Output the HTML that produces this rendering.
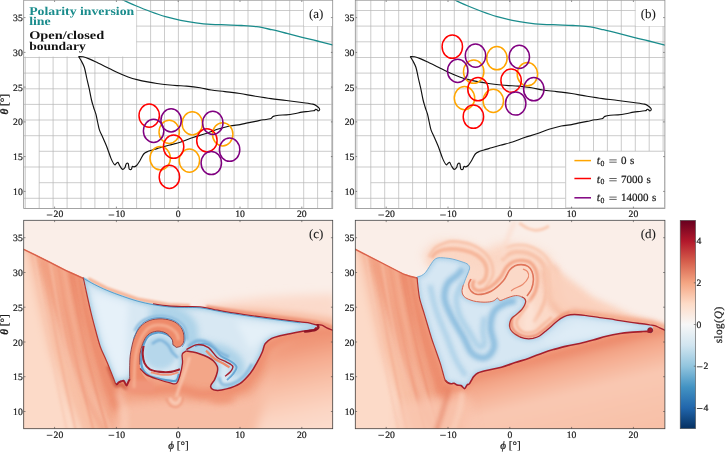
<!DOCTYPE html>
<html><head><meta charset="utf-8"><title>figure</title>
<style>html,body{margin:0;padding:0;background:#fff;}svg{display:block;}text{font-family:"Liberation Serif", serif;fill:#1a1a1a;text-rendering:geometricPrecision;stroke:#1a1a1a;stroke-width:0.22px;}svg{opacity:0.999;}</style></head><body>
<svg width="725" height="452" viewBox="0 0 725 452">
<rect width="725" height="452" fill="#fff"/>
<defs>
<clipPath id="ca"><rect x="23.7" y="0.2" width="309" height="208.2"/></clipPath>
<clipPath id="cb"><rect x="355.3" y="0.2" width="309.6" height="208.2"/></clipPath>
<clipPath id="cc"><rect x="23.7" y="220.3" width="309" height="208.4"/></clipPath>
<clipPath id="cd"><rect x="355.3" y="220.3" width="309.6" height="208.4"/></clipPath>
<filter id="b05" filterUnits="userSpaceOnUse" x="-20" y="-20" width="765" height="492"><feGaussianBlur stdDeviation="0.5"/></filter>
<filter id="b1" filterUnits="userSpaceOnUse" x="-20" y="-20" width="765" height="492"><feGaussianBlur stdDeviation="1"/></filter>
<filter id="b2" filterUnits="userSpaceOnUse" x="-20" y="-20" width="765" height="492"><feGaussianBlur stdDeviation="2"/></filter>
<filter id="b3" filterUnits="userSpaceOnUse" x="-20" y="-20" width="765" height="492"><feGaussianBlur stdDeviation="3"/></filter>
<filter id="b5" filterUnits="userSpaceOnUse" x="-20" y="-20" width="765" height="492"><feGaussianBlur stdDeviation="5"/></filter>
<filter id="b8" filterUnits="userSpaceOnUse" x="-20" y="-20" width="765" height="492"><feGaussianBlur stdDeviation="8"/></filter>
<linearGradient id="cbar" x1="0" y1="0" x2="0" y2="1">
<stop offset="0" stop-color="#67001f"/>
<stop offset="0.1" stop-color="#b2182b"/>
<stop offset="0.2" stop-color="#d6604d"/>
<stop offset="0.3" stop-color="#f4a582"/>
<stop offset="0.4" stop-color="#fddbc7"/>
<stop offset="0.5" stop-color="#f7f7f7"/>
<stop offset="0.6" stop-color="#d1e5f0"/>
<stop offset="0.7" stop-color="#92c5de"/>
<stop offset="0.8" stop-color="#4393c3"/>
<stop offset="0.9" stop-color="#2166ac"/>
<stop offset="1" stop-color="#053061"/>
</linearGradient>
</defs>
<g clip-path="url(#ca)">
<path d="M25.3 0.2 V208.4M39.2 0.2 V208.4M53.1 0.2 V208.4M67.1 0.2 V208.4M81 0.2 V208.4M94.9 0.2 V208.4M108.8 0.2 V208.4M122.7 0.2 V208.4M136.6 0.2 V208.4M150.6 0.2 V208.4M164.5 0.2 V208.4M178.4 0.2 V208.4M192.3 0.2 V208.4M206.2 0.2 V208.4M220.2 0.2 V208.4M234.1 0.2 V208.4M248 0.2 V208.4M261.9 0.2 V208.4M275.8 0.2 V208.4M289.7 0.2 V208.4M303.7 0.2 V208.4M317.6 0.2 V208.4M331.5 0.2 V208.4M23.7 10.5 H332.7M23.7 26.1 H332.7M23.7 41.8 H332.7M23.7 57.5 H332.7M23.7 73.1 H332.7M23.7 88.8 H332.7M23.7 104.4 H332.7M23.7 120 H332.7M23.7 135.7 H332.7M39.2 151.3 H332.7M23.7 167 H332.7M39.2 182.7 H332.7M23.7 198.3 H332.7" stroke="#b6b6b6" stroke-width="0.7" fill="none"/>
<rect x="23.7" y="0" width="112.5" height="56.6" fill="#fff"/>
<rect x="304.0" y="0" width="30" height="26" fill="#fff"/>
<path d="M121 -1 C121.3 -0.8 120.6 -1.1 123 0 C125.4 1.1 130.6 3.6 135.2 5.5 C139.8 7.4 145.2 9.6 150.3 11.5 C155.4 13.4 160.4 15.2 165.5 16.7 C170.6 18.2 175.6 19.3 180.7 20.3 C185.8 21.3 190.8 22.1 195.9 22.8 C201 23.5 205.9 24 211 24.3 C216.1 24.6 221.1 24.7 226.2 24.9 C231.3 25.1 236.3 25.2 241.4 25.5 C246.5 25.8 251.6 26 256.6 26.7 C261.7 27.4 266.6 28.6 271.7 29.7 C276.8 30.8 281.8 32.1 286.9 33.4 C292 34.7 297 36 302.1 37.3 C307.2 38.6 312.2 39.7 317.3 41 C322.4 42.3 329.3 44.1 332.4 44.9 C335.5 45.7 335.4 45.7 336 45.9" stroke="#1a8c8c" stroke-width="1.3" fill="none"/>
<path d="M78.5 56.5 C79.2 56.5 81.2 56.4 83 56.8 C84.8 57.2 86.7 57.9 89.2 58.9 C91.7 59.9 94.8 61.5 98 63 C101.2 64.5 105.4 66.6 108.7 68.2 C112 69.8 114.8 71.3 118 72.8 C121.2 74.3 124.8 75.8 128.1 77 C131.4 78.2 134.8 79.1 138 79.9 C141.2 80.7 144.4 81.3 147.6 81.9 C150.8 82.5 153.8 83 157 83.5 C160.2 84 163.8 84.5 167.1 84.8 C170.4 85.1 173.8 85.4 177 85.6 C180.2 85.8 182.8 85.8 186.6 86.1 C190.4 86.4 195.9 87 200 87.7 C204.1 88.4 207.1 89.3 211.3 90 C215.5 90.7 220.2 91 225 91.6 C229.8 92.2 234.9 92.7 240 93.5 C245.1 94.3 250.3 95.5 255.5 96.3 C260.7 97.1 265.9 97.9 271 98.6 C276.1 99.3 281.2 99.8 286.4 100.5 C291.5 101.2 297.5 101.9 301.9 102.5 C306.3 103.1 310.4 103.5 312.8 104.1 C315.2 104.7 315.6 105.3 316.6 105.9 C317.6 106.5 318.1 107 318.6 107.6 C319.1 108.2 319.8 109 319.7 109.5 C319.6 110 318.7 110.9 318.2 110.9 C317.7 110.9 317.3 110 316.9 109.7 C316.5 109.4 316.1 109.2 315.7 109.3 C315.3 109.4 315 110.2 314.6 110.5 C314.2 110.8 314.4 110.6 313.3 110.8 C312.2 111 310 111.3 308.1 111.5 C306.2 111.7 304.2 111.7 301.9 112.1 C299.6 112.5 296.8 113.3 294.2 113.8 C291.6 114.3 289 114.7 286.4 114.9 C283.8 115.1 280.9 115 278.7 115.2 C276.5 115.5 274.7 115.8 273.3 116.4 C271.9 117 271.9 118.2 270.2 118.8 C268.5 119.4 265.6 119.4 263.2 119.8 C260.8 120.2 258.1 120.9 255.5 121.4 C252.9 121.9 250.3 122.4 247.7 122.9 C245.1 123.4 243 124.1 240 124.6 C237 125.1 233.4 125.2 229.6 126 C225.8 126.8 221.5 128 217.4 129.3 C213.3 130.6 209.3 132.4 205.2 133.8 C201.1 135.2 197.1 136.1 193 137.5 C188.9 138.9 185 140.7 180.9 142 C176.8 143.3 172.2 144.3 168.7 145.3 C165.2 146.3 162.4 147.1 160 147.8 C157.6 148.5 156.3 148.8 154.3 149.4 C152.3 150 149.9 150.5 148.1 151.3 C146.3 152.1 145 152.5 143.7 154 C142.4 155.5 141.4 158.3 140.2 160.2 C139 162.1 137.6 164.4 136.6 165.5 C135.6 166.6 134.7 166.8 134 166.9 C133.3 167.1 132.8 166 132.4 166.4 C132 166.8 131.8 169 131.3 169.4 C130.8 169.8 129.6 169.7 129.2 169 C128.8 168.3 128.8 166.4 128.6 165.5 C128.4 164.6 128.5 163.7 128.1 163.4 C127.7 163.1 126.8 163.3 126.4 163.7 C126 164 125.8 164.9 125.6 165.5 C125.4 166.1 125.6 166.7 125.1 167.3 C124.6 168 123.4 169.7 122.5 169.4 C121.6 169.2 120.5 167 119.8 165.8 C119 164.6 118.6 162.7 118 162.3 C117.4 161.9 116.9 163 116.3 163.4 C115.7 163.8 115.4 165.4 114.5 164.6 C113.6 163.8 112.3 161.5 111 158.4 C109.7 155.3 107.9 149.5 106.5 146 C105.1 142.5 104 140.2 102.8 137.5 C101.6 134.8 100.4 132.7 99.5 130.1 C98.6 127.5 98.2 124.7 97.6 122 C97 119.3 96.6 116.7 95.9 114.2 C95.2 111.7 94.2 109.4 93.5 107 C92.8 104.6 92.2 103 91.5 100 C90.8 97 90 92.5 89.2 88.7 C88.4 85 87.4 81.1 86.6 77.5 C85.8 73.9 85.2 70.1 84.3 67.3 C83.4 64.5 82.2 62.6 81.2 60.8 C80.2 59 79 57.2 78.5 56.5" stroke="#111" stroke-width="1.15" fill="none" stroke-linejoin="round"/>
<ellipse cx="192.3" cy="123.4" rx="10.2" ry="11.6" fill="none" stroke="#ffa500" stroke-width="1.5"/>
<ellipse cx="222.7" cy="134.3" rx="10.2" ry="11.6" fill="none" stroke="#ffa500" stroke-width="1.5"/>
<ellipse cx="169.2" cy="131.9" rx="10.2" ry="11.6" fill="none" stroke="#ffa500" stroke-width="1.5"/>
<ellipse cx="160.2" cy="158.2" rx="10.2" ry="11.6" fill="none" stroke="#ffa500" stroke-width="1.5"/>
<ellipse cx="189.4" cy="160.6" rx="10.2" ry="11.6" fill="none" stroke="#ffa500" stroke-width="1.5"/>
<ellipse cx="149.2" cy="115.6" rx="10.2" ry="11.6" fill="none" stroke="#ff0000" stroke-width="1.5"/>
<ellipse cx="206.9" cy="140.4" rx="10.2" ry="11.6" fill="none" stroke="#ff0000" stroke-width="1.5"/>
<ellipse cx="173.6" cy="146.7" rx="10.2" ry="11.6" fill="none" stroke="#ff0000" stroke-width="1.5"/>
<ellipse cx="169.4" cy="176.9" rx="10.2" ry="11.6" fill="none" stroke="#ff0000" stroke-width="1.5"/>
<ellipse cx="171.1" cy="120.4" rx="10.2" ry="11.6" fill="none" stroke="#800080" stroke-width="1.5"/>
<ellipse cx="212.8" cy="122.9" rx="10.2" ry="11.6" fill="none" stroke="#800080" stroke-width="1.5"/>
<ellipse cx="153.6" cy="130.9" rx="10.2" ry="11.6" fill="none" stroke="#800080" stroke-width="1.5"/>
<ellipse cx="229.6" cy="149.7" rx="10.2" ry="11.6" fill="none" stroke="#800080" stroke-width="1.5"/>
<ellipse cx="211.3" cy="163" rx="10.2" ry="11.6" fill="none" stroke="#800080" stroke-width="1.5"/>
</g>
<g clip-path="url(#cb)">
<path d="M356.9 0.2 V208.4M370.8 0.2 V208.4M384.7 0.2 V208.4M398.7 0.2 V208.4M412.6 0.2 V208.4M426.5 0.2 V208.4M440.4 0.2 V208.4M454.3 0.2 V208.4M468.2 0.2 V208.4M482.2 0.2 V208.4M496.1 0.2 V208.4M510 0.2 V208.4M523.9 0.2 V208.4M537.8 0.2 V208.4M551.8 0.2 V208.4M565.7 0.2 V208.4M579.6 0.2 V208.4M593.5 0.2 V208.4M607.4 0.2 V208.4M621.3 0.2 V208.4M635.3 0.2 V208.4M649.2 0.2 V208.4M663.1 0.2 V208.4M355.3 10.5 H664.9M355.3 26.1 H664.9M355.3 41.8 H664.9M355.3 57.5 H664.9M355.3 73.1 H664.9M355.3 88.8 H664.9M355.3 104.4 H664.9M355.3 120 H664.9M355.3 135.7 H664.9M370.8 151.3 H664.9M355.3 167 H664.9M370.8 182.7 H664.9M355.3 198.3 H664.9" stroke="#b6b6b6" stroke-width="0.7" fill="none"/>
<rect x="635.7" y="0" width="30" height="26" fill="#fff"/>
<path d="M452.6 -1 C452.9 -0.8 452.2 -1.1 454.6 0 C457 1.1 462.2 3.6 466.8 5.5 C471.4 7.4 476.9 9.6 481.9 11.5 C487 13.4 492 15.2 497.1 16.7 C502.2 18.2 507.2 19.3 512.3 20.3 C517.4 21.3 522.5 22.1 527.5 22.8 C532.5 23.5 537.6 24 542.6 24.3 C547.6 24.6 552.7 24.7 557.8 24.9 C562.9 25.1 567.9 25.2 573 25.5 C578.1 25.8 583.2 26 588.2 26.7 C593.2 27.4 598.2 28.6 603.3 29.7 C608.3 30.8 613.4 32.1 618.5 33.4 C623.6 34.7 628.6 36 633.7 37.3 C638.8 38.6 643.9 39.7 648.9 41 C654 42.3 660.9 44.1 664 44.9 C667.1 45.7 667 45.7 667.6 45.9" stroke="#1a8c8c" stroke-width="1.3" fill="none"/>
<path d="M410.1 56.5 C410.9 56.5 412.8 56.4 414.6 56.8 C416.4 57.2 418.3 57.9 420.8 58.9 C423.3 59.9 426.4 61.5 429.6 63 C432.9 64.5 437 66.6 440.3 68.2 C443.6 69.8 446.4 71.3 449.6 72.8 C452.8 74.3 456.4 75.8 459.7 77 C463 78.2 466.4 79.1 469.6 79.9 C472.9 80.7 476 81.3 479.2 81.9 C482.4 82.5 485.4 83 488.6 83.5 C491.9 84 495.4 84.5 498.7 84.8 C502 85.1 505.4 85.4 508.6 85.6 C511.9 85.8 514.4 85.8 518.2 86.1 C522 86.4 527.5 87 531.6 87.7 C535.7 88.4 538.7 89.3 542.9 90 C547.1 90.7 551.8 91 556.6 91.6 C561.4 92.2 566.5 92.7 571.6 93.5 C576.7 94.3 581.9 95.5 587.1 96.3 C592.3 97.1 597.5 97.9 602.6 98.6 C607.8 99.3 612.9 99.8 618 100.5 C623.1 101.2 629.1 101.9 633.5 102.5 C637.9 103.1 642 103.5 644.4 104.1 C646.9 104.7 647.2 105.3 648.2 105.9 C649.2 106.5 649.7 107 650.2 107.6 C650.7 108.2 651.4 109 651.3 109.5 C651.2 110 650.3 110.9 649.8 110.9 C649.3 110.9 648.9 110 648.5 109.7 C648.1 109.4 647.7 109.2 647.3 109.3 C646.9 109.4 646.6 110.2 646.2 110.5 C645.8 110.8 646 110.6 644.9 110.8 C643.8 111 641.6 111.3 639.7 111.5 C637.8 111.7 635.8 111.7 633.5 112.1 C631.2 112.5 628.4 113.3 625.8 113.8 C623.2 114.3 620.6 114.7 618 114.9 C615.4 115.1 612.5 115 610.3 115.2 C608.1 115.5 606.3 115.8 604.9 116.4 C603.5 117 603.5 118.2 601.8 118.8 C600.1 119.4 597.2 119.4 594.8 119.8 C592.3 120.2 589.7 120.9 587.1 121.4 C584.5 121.9 581.9 122.4 579.3 122.9 C576.7 123.4 574.6 124.1 571.6 124.6 C568.6 125.1 565 125.2 561.2 126 C557.4 126.8 553.1 128 549 129.3 C544.9 130.6 540.9 132.4 536.8 133.8 C532.7 135.2 528.6 136.1 524.6 137.5 C520.6 138.9 516.5 140.7 512.5 142 C508.4 143.3 503.8 144.3 500.3 145.3 C496.8 146.3 494 147.1 491.6 147.8 C489.2 148.5 487.9 148.8 485.9 149.4 C483.9 150 481.5 150.5 479.7 151.3 C477.9 152.1 476.6 152.5 475.3 154 C474 155.5 473 158.3 471.8 160.2 C470.6 162.1 469.2 164.4 468.2 165.5 C467.2 166.6 466.3 166.8 465.6 166.9 C464.9 167.1 464.4 166 464 166.4 C463.6 166.8 463.4 169 462.9 169.4 C462.4 169.8 461.2 169.7 460.8 169 C460.4 168.3 460.4 166.4 460.2 165.5 C460 164.6 460.1 163.7 459.7 163.4 C459.3 163.1 458.4 163.3 458 163.7 C457.6 164 457.4 164.9 457.2 165.5 C457 166.1 457.2 166.7 456.7 167.3 C456.2 168 455 169.7 454.1 169.4 C453.2 169.2 452.2 167 451.4 165.8 C450.7 164.6 450.2 162.7 449.6 162.3 C449 161.9 448.5 163 447.9 163.4 C447.3 163.8 447 165.4 446.1 164.6 C445.2 163.8 443.9 161.5 442.6 158.4 C441.3 155.3 439.5 149.5 438.1 146 C436.7 142.5 435.6 140.2 434.4 137.5 C433.2 134.8 432 132.7 431.1 130.1 C430.2 127.5 429.8 124.7 429.2 122 C428.6 119.3 428.2 116.7 427.5 114.2 C426.8 111.7 425.8 109.4 425.1 107 C424.4 104.6 423.8 103 423.1 100 C422.4 97 421.6 92.5 420.8 88.7 C420 85 419 81.1 418.2 77.5 C417.4 73.9 416.8 70.1 415.9 67.3 C415 64.5 413.8 62.6 412.8 60.8 C411.8 59 410.6 57.2 410.1 56.5" stroke="#111" stroke-width="1.15" fill="none" stroke-linejoin="round"/>
<ellipse cx="496.9" cy="58.2" rx="10.2" ry="11.6" fill="none" stroke="#ffa500" stroke-width="1.5"/>
<ellipse cx="527.4" cy="74.2" rx="10.2" ry="11.6" fill="none" stroke="#ffa500" stroke-width="1.5"/>
<ellipse cx="473.7" cy="71.7" rx="10.2" ry="11.6" fill="none" stroke="#ffa500" stroke-width="1.5"/>
<ellipse cx="464.5" cy="98.1" rx="10.2" ry="11.6" fill="none" stroke="#ffa500" stroke-width="1.5"/>
<ellipse cx="493.3" cy="100.9" rx="10.2" ry="11.6" fill="none" stroke="#ffa500" stroke-width="1.5"/>
<ellipse cx="452.3" cy="46.7" rx="10.2" ry="11.6" fill="none" stroke="#ff0000" stroke-width="1.5"/>
<ellipse cx="511.1" cy="80.6" rx="10.2" ry="11.6" fill="none" stroke="#ff0000" stroke-width="1.5"/>
<ellipse cx="478" cy="89.2" rx="10.2" ry="11.6" fill="none" stroke="#ff0000" stroke-width="1.5"/>
<ellipse cx="473.4" cy="116.7" rx="10.2" ry="11.6" fill="none" stroke="#ff0000" stroke-width="1.5"/>
<ellipse cx="475.5" cy="55.6" rx="10.2" ry="11.6" fill="none" stroke="#800080" stroke-width="1.5"/>
<ellipse cx="519.3" cy="56.9" rx="10.2" ry="11.6" fill="none" stroke="#800080" stroke-width="1.5"/>
<ellipse cx="457.7" cy="70.9" rx="10.2" ry="11.6" fill="none" stroke="#800080" stroke-width="1.5"/>
<ellipse cx="533.8" cy="89.2" rx="10.2" ry="11.6" fill="none" stroke="#800080" stroke-width="1.5"/>
<ellipse cx="515.7" cy="103.5" rx="10.2" ry="11.6" fill="none" stroke="#800080" stroke-width="1.5"/>
</g>
<text x="29.2" y="14.6" font-size="11.9" font-weight="bold" style="fill:#1a8c8c;stroke:none" textLength="105" lengthAdjust="spacingAndGlyphs">Polarity inversion</text>
<text x="29.2" y="24.6" font-size="11.9" font-weight="bold" style="fill:#1a8c8c;stroke:none" textLength="21.5" lengthAdjust="spacingAndGlyphs">line</text>
<text x="29.2" y="39.3" font-size="11.9" font-weight="bold" style="fill:#111;stroke:none" textLength="75" lengthAdjust="spacingAndGlyphs">Open/closed</text>
<text x="29.2" y="49.6" font-size="11.9" font-weight="bold" style="fill:#111;stroke:none" textLength="56.5" lengthAdjust="spacingAndGlyphs">boundary</text>
<rect x="565.8" y="151.3" width="98.6" height="56.4" fill="#fff" stroke="#ccc" stroke-width="0.8"/>
<path d="M574.4 160.6 H591" stroke="#ffa500" stroke-width="1.5"/>
<text y="163.9" font-size="11"><tspan x="596.7" font-style="italic" font-size="11.6">t</tspan><tspan x="600.6" font-size="7.8" dy="1.8">0</tspan><tspan x="620.9" dy="-1.8">0</tspan><tspan x="630.1">s</tspan></text>
<path d="M609.3 162.2 h7.4 M609.3 159.9 h7.4" stroke="#222" stroke-width="0.7"/>
<path d="M574.4 178.5 H591" stroke="#ff0000" stroke-width="1.5"/>
<text y="182.5" font-size="11"><tspan x="596.7" font-style="italic" font-size="11.6">t</tspan><tspan x="600.6" font-size="7.8" dy="1.8">0</tspan><tspan x="620.9" dy="-1.8">7000</tspan><tspan x="646.6">s</tspan></text>
<path d="M609.3 180.8 h7.4 M609.3 178.5 h7.4" stroke="#222" stroke-width="0.7"/>
<path d="M574.4 197.8 H591" stroke="#800080" stroke-width="1.5"/>
<text y="201.1" font-size="11"><tspan x="596.7" font-style="italic" font-size="11.6">t</tspan><tspan x="600.6" font-size="7.8" dy="1.8">0</tspan><tspan x="620.9" dy="-1.8">14000</tspan><tspan x="652.1">s</tspan></text>
<path d="M609.3 199.4 h7.4 M609.3 197.1 h7.4" stroke="#222" stroke-width="0.7"/>
<clipPath id="c_sal"><path d="M21.7 247.5 L36 254.5 L50 261.5 L66 269.8 L83.2 277.5 L94 283.5 L106.5 289.4 L122 295.3 L137.4 300.3 L153 303.8 L168.4 306 L184 306.6 L200 306.9 L213 309.3 L226.6 311.9 L253.1 315.9 L280 319.4 L299.9 321.9 L309.9 323.1 L315 324.6 L316.6 327.2 L317.5 324.7 L321.8 325.1 L326.8 327.9 L332.2 330 L336 331.5 L336 431 L21.7 431Z"/></clipPath>
<clipPath id="c_blue"><path d="M83.2 277.5 C84.4 275.6 90.1 281.5 94 283.5 C97.9 285.5 101.8 287.4 106.5 289.4 C111.2 291.4 116.8 293.5 122 295.3 C127.2 297.1 132.2 298.9 137.4 300.3 C142.6 301.7 147.8 302.9 153 303.8 C158.2 304.8 163.2 305.5 168.4 306 C173.6 306.5 178.7 306.5 184 306.6 C189.3 306.8 195.2 306.4 200 306.9 C204.8 307.3 208.6 308.5 213 309.3 C217.4 310.1 219.9 310.8 226.6 311.9 C233.3 313 244.2 314.6 253.1 315.9 C262 317.1 272.2 318.4 280 319.4 C287.8 320.4 294.9 321.3 299.9 321.9 C304.9 322.5 307.4 322.7 309.9 323.1 C312.4 323.6 313.9 323.9 315 324.6 C316.1 325.3 316.8 326.4 316.6 327.2 C316.4 328 315.1 329.1 314 329.6 C312.9 330.1 312.2 329.9 309.9 330.3 C307.5 330.7 303.2 331.2 299.9 331.8 C296.6 332.4 293.3 333.1 290 333.8 C286.7 334.5 283.1 335 280 335.8 C276.9 336.6 274.2 337.1 271.7 338.4 C269.2 339.7 266.7 341.6 265.1 343.8 C263.6 346 263.7 348.6 262.4 351.7 C261.1 354.8 259.1 358.8 257.1 362.4 C255.1 365.9 253.4 369.5 250.5 373 C247.6 376.5 243.9 381 239.9 383.6 C235.9 386.2 230.6 387.8 226.6 388.9 C222.6 390 218.6 390.7 215.9 390.3 C213.2 389.9 210.8 388.1 210.6 386.3 C210.4 384.5 213.5 382 214.6 379.6 C215.7 377.2 216.9 374.2 217.3 372 C217.8 369.8 217.9 368.2 217.3 366.4 C216.7 364.6 215 362.5 213.5 361 C212 359.5 210.8 358.7 208.5 357.5 C206.2 356.3 202.6 354.9 200 354 C197.4 353.1 195.3 352.5 193 352 C190.7 351.5 188.2 350.5 186.4 350.9 C184.6 351.3 182.8 352.2 182.2 354.2 C181.5 356.2 182.9 359.6 182.5 363.1 C182.1 366.7 180.9 372.1 179.9 375.5 C178.9 378.9 178.1 382.3 176.3 383.5 C174.5 384.7 172.4 383.4 169.2 382.6 C166 381.9 160.7 380.3 156.9 379 C153.1 377.7 149 376.4 146.2 374.6 C143.4 372.8 142 368.8 140 368.4 C138 368 135.7 370.2 134 372 C132.3 373.8 130.6 377.5 129.7 379.2 C128.8 380.9 128.8 381 128.3 382 C127.8 383 127.2 385.3 126.6 385.4 C126 385.5 125.3 383.3 124.8 382.5 C124.3 381.7 124.1 381 123.5 380.8 C122.9 380.6 121.8 381.1 121 381.3 C120.2 381.6 119.5 381.8 118.8 382.3 C118.1 382.8 117.5 383.9 117 384.2 C116.5 384.5 116.4 385.1 115.7 383.9 C115 382.7 114 379.6 113 377 C112 374.4 110.9 371.6 109.6 368.4 C108.3 365.1 106.5 361.1 105 357.5 C103.5 353.9 101.9 351.3 100.3 346.7 C98.7 342.1 97 335.7 95.5 330 C94 324.3 92.4 318.4 91 312.6 C89.6 306.8 88.3 300.9 87 295 C85.7 289.1 82 279.4 83.2 277.5Z"/></clipPath>
<g clip-path="url(#cc)">
<rect x="23.7" y="220.3" width="309" height="208.4" fill="#faeee8"/>
<path d="M196 307 L230 301 L263 297 L300 295 L336 294 L337 332 L326.8 327.9 L316 324.8 L299.9 321.9 L280 319.4 L253.1 315.9 L226.6 311.9 L200 306.9Z" fill="#fbdacb" filter="url(#b5)"/>
<path d="M200 307 L230 307.8 L263 309.5 L300 313 L337 319 L337 332 L326.8 327.9 L316 324.8 L299.9 321.9 L280 319.4 L253.1 315.9 L226.6 311.9 L200 306.9Z" fill="#f7bca2" filter="url(#b3)"/>
<path d="M206 307.4 L226.6 310.6 L253.1 314.4 L280 317.9 L300 320.4 L316 323 L326.8 326 L340 331" stroke="#ef977a" stroke-width="5" fill="none" filter="url(#b1)"/>
<path d="M88 278.7 L106.5 288.4 L137.4 299.2 L168.4 304.8 L190 305.8" stroke="#f5b092" stroke-width="3.5" fill="none" filter="url(#b1)" opacity="0.95"/>
<g clip-path="url(#c_sal)">
<rect x="20.7" y="220.3" width="315" height="211.4" fill="#f3a688"/>
<path d="M10 246 L30 250 L50 300 L72 350 L98 400 L126 450 L10 450Z" fill="#f8c3aa" filter="url(#b5)" opacity="0.85"/>
<path d="M10 244 L27 250 L38 300 L50 350 L68 400 L92 450 L10 450Z" fill="#fcdac8" filter="url(#b5)"/>
<path d="M74 270 L85 312 L97 350 L110 388 L120 410" stroke="#ec8869" stroke-width="12" fill="none" filter="url(#b3)" opacity="0.85"/>
<path d="M44 262 L58 310 L70 350 L88 400 L104 432" stroke="#f19b7d" stroke-width="5" fill="none" filter="url(#b2)" opacity="0.6"/>
<path d="M34 253.4 C42 303.4 56 380 68 436" stroke="#f9c9b3" stroke-width="2.5" fill="none" filter="url(#b1)" opacity="0.7"/>
<path d="M42 257.3 C50 307.3 64 380 77 436" stroke="#f2a082" stroke-width="2" fill="none" filter="url(#b1)" opacity="0.5"/>
<path d="M50 261.2 C58 311.2 72 380 86 436" stroke="#f8c0a7" stroke-width="2.5" fill="none" filter="url(#b1)" opacity="0.6"/>
<path d="M58 265.2 C66 315.2 80 380 95 436" stroke="#ee9071" stroke-width="2" fill="none" filter="url(#b1)" opacity="0.5"/>
<path d="M64 268.1 C72 318.1 86 380 102 436" stroke="#f6b398" stroke-width="2" fill="none" filter="url(#b1)" opacity="0.6"/>
<path d="M70 271 C78 321 92 380 109 436" stroke="#ea8061" stroke-width="2" fill="none" filter="url(#b1)" opacity="0.5"/>
<path d="M76 274 C84 324 98 380 116 436" stroke="#f3a587" stroke-width="1.6" fill="none" filter="url(#b1)" opacity="0.6"/>
<path d="M120 404 L170 400 L215 402 L250 396 L275 370 L300 352 L340 345 L340 445 L110 445Z" fill="#f8c0a8" filter="url(#b5)" opacity="0.9"/>
<path d="M128 388 L150 390 L178 388 L200 394 L226 393 L245 385 L258 368 L268 346 L285 338 L312 334 L336 333" stroke="#ee8c6d" stroke-width="9" fill="none" filter="url(#b3)" opacity="0.9"/>
<ellipse cx="222" cy="399" rx="13" ry="5" fill="#f09475" filter="url(#b3)" opacity="0.8"/>
<linearGradient id="c_rb" gradientUnits="userSpaceOnUse" x1="298" y1="333" x2="318" y2="431"><stop offset="0" stop-color="#ec8668"/><stop offset="0.1" stop-color="#f09576"/><stop offset="0.3" stop-color="#f5ac90"/><stop offset="0.55" stop-color="#f9c3ab"/><stop offset="0.8" stop-color="#fbd5c3"/><stop offset="1" stop-color="#fcdccd"/></linearGradient>
<path d="M250 450 L262 412 L268 380 L274 350 L300 337 L345 327 L345 450Z" fill="url(#c_rb)" filter="url(#b5)"/>
<path d="M176.5 397 C178 388 186 372 189.5 357" stroke="#f8c3ab" stroke-width="3" fill="none" filter="url(#b1)" opacity="0.9"/>
<path d="M166 398 C168 404 172 408 177 407 C181 406 183 401 183 397" stroke="#ee9678" stroke-width="1.4" fill="none" filter="url(#b1)"/>
<path d="M170 398 C171 402 174 404 177 403 C179 402 180 400 180 397" stroke="#fad0bc" stroke-width="2" fill="none" filter="url(#b1)"/>
<path d="M21.7 248.2 L36 255.2 L50 262.2 L66 270.5 L83.2 278.2" stroke="#d9614c" stroke-width="1.6" fill="none" filter="url(#b05)"/>
<path d="M118 392 C124 405 126 418 124 432" stroke="#fbd3bf" stroke-width="5" fill="none" filter="url(#b3)" opacity="0.8"/>
</g>
<path d="M108 366 C108.8 368 111.2 374.8 112.5 378 C113.8 381.2 114.6 384.4 116 385.5 C117.4 386.6 119.2 384.1 121 384.5 C122.8 384.9 125 388.1 126.5 388 C128 387.9 129.4 384.7 130 384" stroke="#d5654c" stroke-width="4.5" fill="none" filter="url(#b1)" opacity="0.9" clip-path="url(#c_sal)"/>
<path d="M83.2 277.5 C84.4 275.6 90.1 281.5 94 283.5 C97.9 285.5 101.8 287.4 106.5 289.4 C111.2 291.4 116.8 293.5 122 295.3 C127.2 297.1 132.2 298.9 137.4 300.3 C142.6 301.7 147.8 302.9 153 303.8 C158.2 304.8 163.2 305.5 168.4 306 C173.6 306.5 178.7 306.5 184 306.6 C189.3 306.8 195.2 306.4 200 306.9 C204.8 307.3 208.6 308.5 213 309.3 C217.4 310.1 219.9 310.8 226.6 311.9 C233.3 313 244.2 314.6 253.1 315.9 C262 317.1 272.2 318.4 280 319.4 C287.8 320.4 294.9 321.3 299.9 321.9 C304.9 322.5 307.4 322.7 309.9 323.1 C312.4 323.6 313.9 323.9 315 324.6 C316.1 325.3 316.8 326.4 316.6 327.2 C316.4 328 315.1 329.1 314 329.6 C312.9 330.1 312.2 329.9 309.9 330.3 C307.5 330.7 303.2 331.2 299.9 331.8 C296.6 332.4 293.3 333.1 290 333.8 C286.7 334.5 283.1 335 280 335.8 C276.9 336.6 274.2 337.1 271.7 338.4 C269.2 339.7 266.7 341.6 265.1 343.8 C263.6 346 263.7 348.6 262.4 351.7 C261.1 354.8 259.1 358.8 257.1 362.4 C255.1 365.9 253.4 369.5 250.5 373 C247.6 376.5 243.9 381 239.9 383.6 C235.9 386.2 230.6 387.8 226.6 388.9 C222.6 390 218.6 390.7 215.9 390.3 C213.2 389.9 210.8 388.1 210.6 386.3 C210.4 384.5 213.5 382 214.6 379.6 C215.7 377.2 216.9 374.2 217.3 372 C217.8 369.8 217.9 368.2 217.3 366.4 C216.7 364.6 215 362.5 213.5 361 C212 359.5 210.8 358.7 208.5 357.5 C206.2 356.3 202.6 354.9 200 354 C197.4 353.1 195.3 352.5 193 352 C190.7 351.5 188.2 350.5 186.4 350.9 C184.6 351.3 182.8 352.2 182.2 354.2 C181.5 356.2 182.9 359.6 182.5 363.1 C182.1 366.7 180.9 372.1 179.9 375.5 C178.9 378.9 178.1 382.3 176.3 383.5 C174.5 384.7 172.4 383.4 169.2 382.6 C166 381.9 160.7 380.3 156.9 379 C153.1 377.7 149 376.4 146.2 374.6 C143.4 372.8 142 368.8 140 368.4 C138 368 135.7 370.2 134 372 C132.3 373.8 130.6 377.5 129.7 379.2 C128.8 380.9 128.8 381 128.3 382 C127.8 383 127.2 385.3 126.6 385.4 C126 385.5 125.3 383.3 124.8 382.5 C124.3 381.7 124.1 381 123.5 380.8 C122.9 380.6 121.8 381.1 121 381.3 C120.2 381.6 119.5 381.8 118.8 382.3 C118.1 382.8 117.5 383.9 117 384.2 C116.5 384.5 116.4 385.1 115.7 383.9 C115 382.7 114 379.6 113 377 C112 374.4 110.9 371.6 109.6 368.4 C108.3 365.1 106.5 361.1 105 357.5 C103.5 353.9 101.9 351.3 100.3 346.7 C98.7 342.1 97 335.7 95.5 330 C94 324.3 92.4 318.4 91 312.6 C89.6 306.8 88.3 300.9 87 295 C85.7 289.1 82 279.4 83.2 277.5Z" fill="#d8e8f3"/>
<g clip-path="url(#c_blue)">
<path d="M83.2 277.5 C84.4 275.6 90.1 281.5 94 283.5 C97.9 285.5 101.8 287.4 106.5 289.4 C111.2 291.4 116.8 293.5 122 295.3 C127.2 297.1 132.2 298.9 137.4 300.3 C142.6 301.7 147.8 302.9 153 303.8 C158.2 304.8 163.2 305.5 168.4 306 C173.6 306.5 178.7 306.5 184 306.6 C189.3 306.8 195.2 306.4 200 306.9 C204.8 307.3 208.6 308.5 213 309.3 C217.4 310.1 219.9 310.8 226.6 311.9 C233.3 313 244.2 314.6 253.1 315.9 C262 317.1 272.2 318.4 280 319.4 C287.8 320.4 294.9 321.3 299.9 321.9 C304.9 322.5 307.4 322.7 309.9 323.1 C312.4 323.6 313.9 323.9 315 324.6 C316.1 325.3 316.8 326.4 316.6 327.2 C316.4 328 315.1 329.1 314 329.6 C312.9 330.1 312.2 329.9 309.9 330.3 C307.5 330.7 303.2 331.2 299.9 331.8 C296.6 332.4 293.3 333.1 290 333.8 C286.7 334.5 283.1 335 280 335.8 C276.9 336.6 274.2 337.1 271.7 338.4 C269.2 339.7 266.7 341.6 265.1 343.8 C263.6 346 263.7 348.6 262.4 351.7 C261.1 354.8 259.1 358.8 257.1 362.4 C255.1 365.9 253.4 369.5 250.5 373 C247.6 376.5 243.9 381 239.9 383.6 C235.9 386.2 230.6 387.8 226.6 388.9 C222.6 390 218.6 390.7 215.9 390.3 C213.2 389.9 210.8 388.1 210.6 386.3 C210.4 384.5 213.5 382 214.6 379.6 C215.7 377.2 216.9 374.2 217.3 372 C217.8 369.8 217.9 368.2 217.3 366.4 C216.7 364.6 215 362.5 213.5 361 C212 359.5 210.8 358.7 208.5 357.5 C206.2 356.3 202.6 354.9 200 354 C197.4 353.1 195.3 352.5 193 352 C190.7 351.5 188.2 350.5 186.4 350.9 C184.6 351.3 182.8 352.2 182.2 354.2 C181.5 356.2 182.9 359.6 182.5 363.1 C182.1 366.7 180.9 372.1 179.9 375.5 C178.9 378.9 178.1 382.3 176.3 383.5 C174.5 384.7 172.4 383.4 169.2 382.6 C166 381.9 160.7 380.3 156.9 379 C153.1 377.7 149 376.4 146.2 374.6 C143.4 372.8 142 368.8 140 368.4 C138 368 135.7 370.2 134 372 C132.3 373.8 130.6 377.5 129.7 379.2 C128.8 380.9 128.8 381 128.3 382 C127.8 383 127.2 385.3 126.6 385.4 C126 385.5 125.3 383.3 124.8 382.5 C124.3 381.7 124.1 381 123.5 380.8 C122.9 380.6 121.8 381.1 121 381.3 C120.2 381.6 119.5 381.8 118.8 382.3 C118.1 382.8 117.5 383.9 117 384.2 C116.5 384.5 116.4 385.1 115.7 383.9 C115 382.7 114 379.6 113 377 C112 374.4 110.9 371.6 109.6 368.4 C108.3 365.1 106.5 361.1 105 357.5 C103.5 353.9 101.9 351.3 100.3 346.7 C98.7 342.1 97 335.7 95.5 330 C94 324.3 92.4 318.4 91 312.6 C89.6 306.8 88.3 300.9 87 295 C85.7 289.1 82 279.4 83.2 277.5Z" fill="none" stroke="#9ccae3" stroke-width="5" filter="url(#b2)" opacity="0.9"/>
<path d="M92 292 L128 304 L126 372 L118 378 L104 340Z" fill="#e6f1f9" filter="url(#b3)"/>
<path d="M236 322 L300 328 L268 334 L250 350Z" fill="#e4f0f8" filter="url(#b3)"/>
<path d="M150 314 C154.2 314 168.3 312 175 314 C181.7 316 187.2 321.3 190 326 C192.8 330.7 189.5 338.3 192 342 C194.5 345.7 200 346.3 205 348 C210 349.7 216.8 349.7 222 352 C227.2 354.3 233.3 358 236 362 C238.7 366 237.7 373.7 238 376" stroke="#a9d0e7" stroke-width="14" fill="none" filter="url(#b3)" opacity="0.9"/>
<ellipse cx="160" cy="352" rx="17" ry="17" fill="#b3d5ea" filter="url(#b2)" opacity="0.9"/>
</g>
<g clip-path="url(#c_blue)">
<path d="M174 345.5 C173.9 344.5 174.4 341.4 173.2 339.5 C171.9 337.6 169.2 335.3 166.5 334.2 C163.8 333.1 160 332.3 157 332.6 C154 332.9 150.8 334.1 148.6 336 C146.4 337.9 145 341.2 143.8 344.2 C142.6 347.2 142 350.8 141.6 354.2 C141.2 357.6 141 361.6 141.4 364.5 C141.8 367.4 142.6 369.5 144 371.5 C145.4 373.5 147.3 375.1 150 376.3 C152.7 377.6 156.7 378.3 160 379 C163.3 379.7 167.2 380.4 170 380.6 C172.8 380.9 175 381.6 176.5 380.5 C178 379.4 178.6 375.1 179 374" stroke="#5d9fcf" stroke-width="2.2" fill="none" filter="url(#b05)"/>
<path d="M152 344 C153.3 343.3 157.3 339.8 160 340 C162.7 340.2 166 343 168 345 C170 347 170.3 349.8 172 352 C173.7 354.2 177 357 178 358" stroke="#7db3da" stroke-width="2.5" fill="none" filter="url(#b1)"/>
<path d="M195 346 C196.7 345.6 201.8 343.2 205 343.5 C208.2 343.8 211.3 345.9 214 348 C216.7 350.1 218.2 353.8 221 356 C223.8 358.2 228.4 359.7 231 361.5 C233.6 363.3 236.2 364.9 236.5 367 C236.8 369.1 234.6 371.8 233 374 C231.4 376.2 228 379 227 380" stroke="#6aa8d4" stroke-width="2" fill="none" filter="url(#b05)"/>
<path d="M219 377 C219.5 378.2 219.8 382.8 222 384 C224.2 385.2 228.3 385.3 232 384 C235.7 382.7 240.7 379.3 244 376 C247.3 372.7 250.7 366 252 364" stroke="#8bbcde" stroke-width="3" fill="none" filter="url(#b1)"/>
<path d="M134.5 331 C135.4 329.7 137.4 325.2 140 323 C142.6 320.8 146.2 318.7 150 317.5 C153.8 316.3 158.7 315.7 163 316 C167.3 316.3 172.3 317.5 176 319.5 C179.7 321.5 183.2 324.6 185 328 C186.8 331.4 186.7 338 187 340" stroke="#8bbcde" stroke-width="2.5" fill="none" filter="url(#b1)"/>
</g>
<path d="M129.4 386 C129.4 384.9 129.6 382.6 129.7 379.2 C129.8 375.8 129.5 369.7 129.7 365.3 C129.8 360.9 129.8 357.5 130.6 352.9 C131.4 348.2 132.7 341.8 134.3 337.4 C136 333 137.9 329.4 140.5 326.6 C143.1 323.8 146.2 321.7 149.8 320.4 C153.4 319.1 158.1 318.6 162.2 318.8 C166.3 319.1 171.2 320.1 174.6 321.9 C177.9 323.7 180.8 326.6 182.3 329.7 C183.9 332.8 184.2 337.8 183.9 340.5 C183.7 343.2 182.1 344.9 180.8 346 C179.5 347.1 177.1 347.2 176.3 347.4 L172.8 344.5 C172.7 343.6 173.1 341.1 171.9 339.2 C170.7 337.3 168.2 334.3 165.7 333 C163.2 331.7 159.8 330.9 156.9 331.2 C154 331.5 150.4 332.7 148 334.8 C145.6 336.9 144 340.4 142.7 343.6 C141.4 346.8 140.5 350.7 140 354.2 C139.5 357.7 139.6 361.6 139.8 364.6 C140 367.6 140.4 369.6 141.4 372 C142.4 374.4 144.2 376.7 146 379 C147.8 381.3 151 384.8 152 386Z" fill="#ee8a6a"/>
<path d="M128 380 L154 380 L154 392 L126 392Z" fill="#f0957a" filter="url(#b2)" clip-path="url(#c_sal)"/>
<path d="M129.7 379.2 C129.7 376.9 129.5 369.7 129.7 365.3 C129.8 360.9 129.8 357.5 130.6 352.9 C131.4 348.2 132.7 341.8 134.3 337.4 C136 333 137.9 329.4 140.5 326.6 C143.1 323.8 146.2 321.7 149.8 320.4 C153.4 319.1 158.1 318.6 162.2 318.8 C166.3 319.1 171.2 320.1 174.6 321.9 C177.9 323.7 180.8 326.6 182.3 329.7 C183.9 332.8 184.2 337.8 183.9 340.5 C183.7 343.2 182.1 344.9 180.8 346 C179.5 347.1 177.1 347.2 176.3 347.4 L172.8 344.5 C172.7 343.6 173.1 341.1 171.9 339.2 C170.7 337.3 168.2 334.3 165.7 333 C163.2 331.7 159.8 330.9 156.9 331.2 C154 331.5 150.4 332.7 148 334.8 C145.6 336.9 144 340.4 142.7 343.6 C141.4 346.8 140.5 350.7 140 354.2 C139.5 357.7 139.8 362.9 139.8 364.6" fill="none" stroke="#7d2a35" stroke-width="0.8"/>
<path d="M134 388 C134.1 383.8 134.3 369.5 134.8 363 C135.3 356.5 135.8 353.3 137 348.9 C138.2 344.5 139.8 340 141.8 336.5 C143.8 333 146.2 329.6 148.9 327.7 C151.6 325.8 154.4 325.1 157.7 325 C160.9 324.9 165.3 325.5 168.4 326.8 C171.5 328.1 174.6 330.8 176.3 333 C178 335.2 178.2 338.9 178.6 340.1" stroke="#f6b093" stroke-width="3" fill="none" filter="url(#b1)" opacity="0.9"/>
<path d="M133.6 338.5 C134.6 336.4 137 329.4 139.6 326.2 C142.2 323 145.6 320.8 149.4 319.4 C153.2 318 157.9 317.5 162.2 317.8 C166.5 318.1 171.5 319.1 175 321 C178.5 322.9 181.5 325.9 183.2 329.2 C184.9 332.4 185.2 337.5 185 340.5 C184.8 343.5 182.5 345.9 182 347" stroke="#3f86bf" stroke-width="0.8" fill="none" opacity="0.9"/>
<path d="M188 347 C189.5 346 193.5 341.7 197 341 C200.5 340.3 205.3 341.2 209 343 C212.7 344.8 215.7 349.7 219 352 C222.3 354.3 227.3 356.2 229 357" stroke="#7eb4da" stroke-width="3" fill="none" filter="url(#b1)" clip-path="url(#c_blue)"/>
<path d="M143.5 346 C143.4 347.4 142.5 351.3 142.7 354.2 C142.9 357.1 143.3 360.6 144.5 363.1 C145.7 365.6 147.2 367.8 149.8 369.3 C152.5 370.8 156.9 371.5 160.4 371.9 C163.9 372.3 167.8 372.3 171 371.9 C174.2 371.5 178.4 369.7 179.9 369.3" stroke="#a51f2c" stroke-width="2.1" fill="none"/>
<path d="M150.8 372.2 C152.4 372.6 157 374 160.4 374.4 C163.8 374.8 168 374.8 171 374.4 C174 374 177.2 372.6 178.5 372.2" stroke="#f19577" stroke-width="2" fill="none"/>
<path d="M186.4 349.6 C188.2 348.8 193.7 344.9 197.4 344.6 C201.1 344.3 205.2 345.5 208.5 347.6 C211.8 349.8 214.4 355.1 217.3 357.5 C220.2 359.9 223.6 360.4 226.2 361.9 C228.8 363.4 232.1 364.8 232.8 366.4 C233.5 368 231.7 370.1 230.4 371.8 C229.1 373.5 225.9 375.6 225 376.3" stroke="#a51f2c" stroke-width="1.4" fill="none"/>
<path d="M206 350.6 C207.4 351.9 211.3 356.3 214.3 358.5 C217.3 360.7 221.7 362.5 224.2 364 C226.7 365.5 228.6 366.8 229.5 367.4" stroke="#ee8a6a" stroke-width="2.2" fill="none"/>
<path d="M153 303.8 C155.6 304.2 163.2 305.5 168.4 306 C173.6 306.5 178.7 306.5 184 306.6 C189.3 306.8 195.2 306.4 200 306.9 C204.8 307.3 208.6 308.5 213 309.3 C217.4 310.1 219.9 310.8 226.6 311.9 C233.3 313 244.2 314.6 253.1 315.9 C262 317.1 272.2 318.4 280 319.4 C287.8 320.4 294.9 321.3 299.9 321.9 C304.9 322.5 307.4 322.7 309.9 323.1 C312.4 323.6 313.7 324.3 315 324.6 C316.3 324.9 316.4 324.6 317.5 324.7 C318.6 324.8 320.2 324.6 321.8 325.1 C323.4 325.6 325.1 327.1 326.8 327.9 C328.5 328.7 330.7 329.4 332.2 330 C333.7 330.6 335.4 331.2 336 331.5" stroke="#a51f2c" stroke-width="1.3" fill="none"/>
<path d="M316.6 327.2 C316.2 327.6 315.1 329.1 314 329.6 C312.9 330.1 312.2 329.9 309.9 330.3 C307.5 330.7 303.2 331.2 299.9 331.8 C296.6 332.4 293.3 333.1 290 333.8 C286.7 334.5 283.1 335 280 335.8 C276.9 336.6 274.2 337.1 271.7 338.4 C269.2 339.7 266.7 341.6 265.1 343.8 C263.6 346 263.7 348.6 262.4 351.7 C261.1 354.8 259.1 358.8 257.1 362.4 C255.1 365.9 253.4 369.5 250.5 373 C247.6 376.5 243.9 381 239.9 383.6 C235.9 386.2 230.6 387.8 226.6 388.9 C222.6 390 218.6 390.7 215.9 390.3 C213.2 389.9 210.8 388.1 210.6 386.3 C210.4 384.5 213.5 382 214.6 379.6 C215.7 377.2 216.9 374.2 217.3 372 C217.8 369.8 217.9 368.2 217.3 366.4 C216.7 364.6 215 362.5 213.5 361 C212 359.5 210.8 358.7 208.5 357.5 C206.2 356.3 202.6 354.9 200 354 C197.4 353.1 195.3 352.5 193 352 C190.7 351.5 187.5 351.1 186.4 350.9" stroke="#a51f2c" stroke-width="1.5" fill="none"/>
<path d="M186.4 350.9 C185.7 351.4 182.8 352.2 182.2 354.2 C181.5 356.2 182.9 359.6 182.5 363.1 C182.1 366.7 180.9 372.1 179.9 375.5 C178.9 378.9 178.1 382.3 176.3 383.5 C174.5 384.7 172.4 383.4 169.2 382.6 C166 381.9 160.7 380.3 156.9 379 C153.1 377.7 149 376.4 146.2 374.6 C143.4 372.8 141 369.4 140 368.4" stroke="#a51f2c" stroke-width="1.3" fill="none"/>
<path d="M115.7 383.9 C115.2 382.8 114 379.6 113 377 C112 374.4 110.9 371.6 109.6 368.4 C108.3 365.1 106.5 361.1 105 357.5 C103.5 353.9 101.9 351.3 100.3 346.7 C98.7 342.1 97 335.7 95.5 330 C94 324.3 92.4 318.4 91 312.6 C89.6 306.8 88.3 300.9 87 295 C85.7 289.1 83.8 280.4 83.2 277.5" stroke="#b5352f" stroke-width="1.2" fill="none"/>
<path d="M129.7 379.2 C129.5 379.7 128.8 381 128.3 382 C127.8 383 127.2 385.3 126.6 385.4 C126 385.5 125.3 383.3 124.8 382.5 C124.3 381.7 124.1 381 123.5 380.8 C122.9 380.6 121.8 381.1 121 381.3 C120.2 381.6 119.5 381.8 118.8 382.3 C118.1 382.8 117.5 383.9 117 384.2 C116.5 384.5 115.9 383.9 115.7 383.9" stroke="#a51f2c" stroke-width="2" fill="none" filter="url(#b05)"/>
<path d="M83.5 278.4 C85.3 279.4 90.4 282.4 94.3 284.4 C98.2 286.4 102.1 288.3 106.8 290.3 C111.5 292.3 117.1 294.4 122.3 296.2 C127.5 298 132.5 299.8 137.7 301.2 C142.9 302.6 148.1 303.8 153.3 304.7 C158.5 305.6 163.5 306.4 168.7 306.9 C173.9 307.4 179 307.4 184.3 307.5 C189.6 307.6 195.5 307.3 200.3 307.8 C205.1 308.2 208.9 309.4 213.3 310.2 C217.7 311 220.2 311.7 226.9 312.8 C233.6 313.9 244.5 315.5 253.4 316.8 C262.3 318 272.5 319.3 280.3 320.3 C288.1 321.3 296.9 322.4 300.2 322.8" stroke="#3f8fc4" stroke-width="0.8" fill="none"/>
<path d="M305 331.6 C306 331.5 309.2 331.1 311 330.8 C312.8 330.5 314.4 330.3 315.6 329.8 C316.8 329.3 318.1 328.4 318.4 327.6 C318.7 326.8 317.7 325.6 317.6 325.2" stroke="#8e1526" stroke-width="2.4" fill="none" stroke-linecap="round"/>
</g>
<clipPath id="d_sal"><path d="M353.3 247.5 L380 261.2 L403.7 273.4 L410 275.5 L417.1 277.2 L440 340 L520 345 L600 328 L648 328 L649.8 325.2 L654.8 325.8 L659.8 328.1 L664.2 330.1 L668 332.2 L668 431 L353.3 431Z"/></clipPath>
<clipPath id="d_blue"><path d="M417.1 277.2 C417.7 275.3 420.1 276.4 421.5 275.6 C422.9 274.8 424.3 273.9 425.6 272.4 C426.9 270.9 428.3 268.3 429.5 266.5 C430.7 264.7 431.9 262.7 432.9 261.4 C433.9 260.1 434.6 259.4 435.6 258.8 C436.6 258.2 437.4 257.8 439 257.7 C440.6 257.6 443.3 257.8 445.5 258 C447.7 258.2 450 258.5 452.4 259 C454.8 259.5 457.6 260.4 460 261.2 C462.4 262 465.4 262.8 467 263.8 C468.6 264.9 469.4 266 469.6 267.5 C469.8 269 468.6 271.2 468 273 C467.4 274.8 466.4 276.6 465.7 278.5 C464.9 280.4 464.1 282.5 463.5 284.5 C462.9 286.5 462.1 288.9 462 290.6 C461.9 292.4 462.4 293.8 463 295 C463.6 296.2 464.5 297 465.8 297.9 C467.1 298.8 469.2 299.6 471 300.2 C472.8 300.8 474.4 301.3 476.6 301.6 C478.8 301.9 481.6 302.2 484 302.2 C486.4 302.2 489.4 302 491.2 301.6 C493 301.2 494 300.6 495 300 C496 299.4 496.6 297.9 497.3 297.9 C498 297.9 498.4 299.4 499 299.8 C499.6 300.2 499.7 300.7 501 300.4 C502.3 300.1 505 298.7 507 298 C509 297.3 511.4 296.4 513.1 296 C514.9 295.6 516.1 295.5 517.5 295.6 C518.9 295.7 520.4 296.2 521.6 296.7 C522.8 297.2 523.9 297.8 524.6 298.6 C525.3 299.4 525.7 300.4 525.7 301.6 C525.7 302.8 525 304.3 524.4 305.6 C523.8 306.9 523 308.1 521.8 309.5 C520.6 310.9 518.6 312.6 517 314 C515.4 315.4 513.2 316.7 512 318 C510.8 319.3 510.4 320.6 510 322 C509.6 323.4 509.4 325.1 509.6 326.5 C509.8 327.9 510.4 329.3 511.2 330.5 C512 331.7 513 332.7 514.5 333.8 C516 334.9 518 336.2 520 337 C522 337.8 524.4 338.5 526.6 338.7 C528.8 338.9 530.9 338.8 533 338.4 C535.1 337.9 537.2 337.4 539.5 336 C541.8 334.6 544.6 332 547 330 C549.4 328 551.9 325.7 554.1 323.8 C556.4 321.9 558.4 320 560.5 318.6 C562.6 317.2 564.2 316.3 566.5 315.6 C568.8 314.9 571.2 314.5 574.5 314.5 C577.8 314.5 582.2 315.1 586.4 315.6 C590.6 316.1 595.8 317.1 599.7 317.6 C603.6 318.2 606.6 318.4 610 318.9 C613.4 319.4 616.7 320.1 620 320.6 C623.3 321.2 626.3 321.7 629.6 322.2 C632.9 322.7 636.6 323.1 640 323.5 C643.4 323.9 647.7 324.3 649.8 324.9 C651.9 325.5 652.1 326.1 652.6 327 C653.1 327.9 653.2 329.4 653 330.4 C652.8 331.4 652 332.5 651.2 332.8 C650.5 333.1 649.2 332.6 648.5 332.4 C647.8 332.2 647.9 331.5 646.8 331.4 C645.7 331.3 644.6 331.4 641.8 331.6 C639 331.8 633.5 332.1 629.9 332.4 C626.3 332.7 623.9 332.9 620 333.5 C616.1 334.1 610.8 335.1 606.3 336.2 C601.8 337.3 597.5 338.9 593.1 340.1 C588.7 341.3 584.2 342.5 579.8 343.5 C575.4 344.5 570.9 345.1 566.5 346.1 C562.1 347.1 557.2 348.5 553.3 349.6 C549.3 350.7 546.8 351.5 542.8 352.9 C538.8 354.3 533.6 356.6 529 358.2 C524.4 359.8 519.8 361.1 515.2 362.6 C510.6 364.1 506 365.9 501.4 367.2 C496.8 368.5 491.5 369.2 487.6 370.2 C483.7 371.1 480.2 371.9 477.9 372.9 C475.6 373.9 474.9 375.2 473.8 376.4 C472.7 377.6 472.2 379 471.5 380.2 C470.8 381.4 470.1 383 469.4 383.8 C468.6 384.6 467.8 384.2 467 385 C466.2 385.8 465.5 388.5 464.5 388.6 C463.5 388.7 462.2 386.1 461 385.5 C459.8 384.9 458.4 385.4 457.2 385 C456 384.6 455 383.4 454 383.2 C453 383 452.2 383.9 451.1 383.8 C450 383.7 448.5 383.1 447.5 382.5 C446.5 381.9 445.9 381.9 445.1 380.1 C444.3 378.3 443.4 374.3 442.6 371.5 C441.8 368.7 441.3 366.5 440.2 363.1 C439.1 359.7 437.4 355.1 436 351 C434.6 346.9 433 342.8 431.7 338.7 C430.4 334.6 429.2 330.6 428 326.5 C426.8 322.4 425.4 317.8 424.4 314.4 C423.4 311 422.6 308.8 421.8 306 C421 303.2 420.1 301.1 419.5 297.9 C418.9 294.7 418.4 290.4 418 287 C417.6 283.6 416.5 279.1 417.1 277.2Z"/></clipPath>
<g clip-path="url(#cd)">
<rect x="355.3" y="220.3" width="309.6" height="208.4" fill="#faeee8"/>
<path d="M426 266 L434 248 L452 241 L474 245 L494 256 L506 250 L524 247 L546 256 L558 278 L566 316 L542 338 L508 328 L463 300 L460 270Z" fill="#fbd9c8" filter="url(#b3)"/>
<path d="M428 262 C430 260 434.3 251.7 440 250 C445.7 248.3 454.3 250.3 462 252 C469.7 253.7 479.7 260 486 260 C492.3 260 493.3 253 500 252 C506.7 251 518.3 251.7 526 254 C533.7 256.3 541.7 260 546 266 C550.3 272 549.7 282.3 552 290 C554.3 297.7 558.7 308.3 560 312" stroke="#fbd6c3" stroke-width="16" fill="none" filter="url(#b5)" opacity="0.9"/>
<path d="M549 268 C549.7 271.3 551.7 282.3 553 288 C554.3 293.7 554.5 298.2 557 302 C559.5 305.8 562.5 309.2 568 311 C573.5 312.8 586.3 312.7 590 313" stroke="#f6b69a" stroke-width="15" fill="none" filter="url(#b3)" opacity="0.95"/>
<path d="M431.5 257.5 C432.2 256.7 433.9 253.9 436 252.6 C438.1 251.3 440.4 250.2 444 249.6 C447.6 249 453 248.7 457.5 249.2 C462 249.7 467 250.8 471 252.4 C475 254 478.9 256.4 481.5 259 C484.1 261.6 486 264.6 486.5 268 C487 271.4 486.1 276.8 484.7 279.5 C483.3 282.2 479.1 283.2 478 284" stroke="#f6b79b" stroke-width="4" fill="none" filter="url(#b1)"/>
<path d="M428.8 257 C429.9 255.4 432.9 250 435.4 247.7 C437.9 245.4 441.1 244.4 444 243.4 C446.9 242.4 448.6 241.4 453.1 241.6 C457.6 241.8 465.7 242.7 470.8 244.4 C475.9 246.2 480.5 249 484 252.1 C487.5 255.2 490.2 259.1 491.6 263.1 C493 267.1 493.6 271.9 492.5 276 C491.4 280.1 486.2 286 485 288" stroke="#f8c4ac" stroke-width="3" fill="none" filter="url(#b1)"/>
<path d="M471 279 C470.6 279.9 468.6 282.5 468.6 284.5 C468.6 286.5 469.4 289.3 471 291 C472.6 292.7 474.6 294.5 478 294.5 C481.4 294.5 486.9 293.5 491.1 291.2 C495.3 288.9 500.2 284.2 503.3 280.7 C506.4 277.2 507.4 272.8 509.4 270.3 C511.3 267.8 513 266.8 515 265.8 C517 264.9 519.2 264.5 521.4 264.6 C523.6 264.7 526.2 265.2 528 266.4 C529.8 267.5 531.1 269.3 532 271.5 C532.9 273.7 533.5 276.8 533.4 279.7 C533.3 282.6 532.6 286.3 531.5 289 C530.4 291.7 527.8 294.8 527 296" stroke="#e0745a" stroke-width="1.6" fill="none" filter="url(#b05)"/>
<path d="M474 280 C473.8 280.9 472.4 283.9 472.6 285.5 C472.8 287.1 473.6 288.7 475 289.5 C476.4 290.3 478.5 290.9 481 290.5 C483.5 290.1 486.9 289.3 490.1 287.2 C493.3 285.1 497.6 281 500.3 277.7 C503 274.4 504.3 269.9 506.4 267.3 C508.5 264.7 510.5 263.1 513 262 C515.5 260.9 518.6 260.3 521.4 260.4 C524.2 260.5 527.6 260.9 530 262.4 C532.4 263.9 534.4 266.6 535.6 269.5 C536.8 272.4 537.4 276.1 537.4 279.7 C537.4 283.3 536.6 287.8 535.5 291 C534.4 294.2 532.6 296.5 531 299 C529.4 301.5 526.8 304.8 526 306" stroke="#f3a283" stroke-width="3.4" fill="none" filter="url(#b1)" opacity="0.9"/>
<path d="M511 291 C511.5 290.6 512.1 289.9 514.1 288.8 C516.1 287.7 520.3 286.4 522.7 284.5 C525.1 282.6 527.6 279.4 528.4 277.3 C529.2 275.2 528.4 273 527.5 271.6 C526.6 270.2 523.8 269.4 523 269" stroke="#ea8a6e" stroke-width="1.2" fill="none" filter="url(#b05)"/>
<path d="M501.7 260.5 C502.8 259.5 505.9 255.9 508.3 254.5 C510.7 253.1 512.9 252.2 516 252 C519.1 251.8 523.5 251.9 527.2 253 C530.9 254.1 535 256.1 538 258.6 C541 261.1 543.5 263.9 545 268 C546.5 272.1 546.8 278.3 547 283 C547.2 287.7 547 291.5 546 296 C545 300.5 543.2 305.7 541 310 C538.8 314.3 534.3 320 533 322" stroke="#f8c3aa" stroke-width="4" fill="none" filter="url(#b1)"/>
<path d="M505 248 C506.5 247.6 510.2 245.7 514 245.4 C517.8 245.1 523.2 244.6 528 246 C532.8 247.4 539 250.3 543 254 C547 257.7 550 262.7 552 268 C554 273.3 554.5 283 555 286" stroke="#f9cdb7" stroke-width="3" fill="none" filter="url(#b1)"/>
<path d="M528 302 C528.3 304 530 310.2 530 314 C530 317.8 527.8 322.2 528 325 C528.2 327.8 530.5 330 531 331" stroke="#fce3d6" stroke-width="9" fill="none" filter="url(#b3)"/>
<path d="M546 262 L562 273 L593 297 L630 314 L670 327 L670 334 L567 318 L550 300Z" fill="#fad0bc" filter="url(#b3)" opacity="0.95"/>
<path d="M523.6 303 C523 303.9 521.5 306.8 520 308.5 C518.5 310.2 515.9 311.7 514.5 313.5 C513.1 315.3 512.1 317.2 511.6 319.5 C511.2 321.8 511.1 324.9 511.8 327 C512.5 329.1 514.3 331 516 332.4 C517.7 333.8 520 334.9 522 335.6 C524 336.3 525.7 336.7 528 336.6 C530.3 336.5 533.2 336.5 536 335.2 C538.8 333.9 542.2 331.2 545 329 C547.8 326.8 550.3 324.3 553 322.2 C555.7 320.1 558.2 318 561 316.4 C563.8 314.8 568.5 313.2 570 312.6" stroke="#ee9275" stroke-width="3.2" fill="none" filter="url(#b1)"/>
<path d="M527.6 305 C526.7 306.2 523.8 309.9 522 312.5 C520.2 315.1 517.4 318.1 516.6 320.5 C515.9 322.9 516.6 325.1 517.5 327 C518.4 328.9 520.2 330.6 522 331.6 C523.8 332.6 525.7 333.1 528 333 C530.3 332.9 533.3 332.5 536 331 C538.7 329.5 541.3 326.3 544 324 C546.7 321.7 550.7 318.2 552 317" stroke="#f7bba1" stroke-width="3" fill="none" filter="url(#b1)"/>
<path d="M561 317 L574 312.6 L593 314.8 L629.6 320.2 L652 323.4 L668 329" stroke="#f3a485" stroke-width="6" fill="none" filter="url(#b2)" opacity="0.95"/>
<path d="M519.3 223 C520.6 223.8 524.4 226.8 527 228 C529.6 229.2 532.3 230 535 230.2 C537.7 230.4 540.7 229.7 543 229 C545.3 228.3 548 226.5 549 226" stroke="#f9ccb6" stroke-width="3" fill="none" filter="url(#b1)"/>
<path d="M502.8 258.6 C503.2 256.6 503.7 251.1 505 246.5 C506.3 241.9 508.8 235.2 510.5 231 C512.2 226.8 514.2 222.7 515 221" stroke="#fbdccd" stroke-width="3" fill="none" filter="url(#b2)"/>
<g clip-path="url(#d_sal)">
<rect x="352.3" y="220.3" width="315.6" height="211.4" fill="#f3a688"/>
<path d="M341.6 246 L361.6 250 L381.6 300 L403.6 350 L429.6 400 L457.6 450 L341.6 450Z" fill="#f8c3aa" filter="url(#b5)" opacity="0.85"/>
<path d="M341.6 244 L358.6 250 L369.6 300 L381.6 350 L399.6 400 L423.6 450 L341.6 450Z" fill="#fcdac8" filter="url(#b5)"/>
<path d="M405.6 270 L416.6 312 L428.6 350 L441.6 388 L451.6 410" stroke="#ec8869" stroke-width="12" fill="none" filter="url(#b3)" opacity="0.85"/>
<path d="M375.6 262 L389.6 310 L401.6 350 L419.6 400 L435.6 432" stroke="#f19b7d" stroke-width="5" fill="none" filter="url(#b2)" opacity="0.6"/>
<path d="M365.6 253.4 C373.6 303.4 387.6 380 399.6 436" stroke="#f9c9b3" stroke-width="2.5" fill="none" filter="url(#b1)" opacity="0.7"/>
<path d="M373.6 257.3 C381.6 307.3 395.6 380 408.6 436" stroke="#f2a082" stroke-width="2" fill="none" filter="url(#b1)" opacity="0.5"/>
<path d="M381.6 261.2 C389.6 311.2 403.6 380 417.6 436" stroke="#f8c0a7" stroke-width="2.5" fill="none" filter="url(#b1)" opacity="0.6"/>
<path d="M389.6 265.2 C397.6 315.2 411.6 380 426.6 436" stroke="#ee9071" stroke-width="2" fill="none" filter="url(#b1)" opacity="0.5"/>
<path d="M395.6 268.1 C403.6 318.1 417.6 380 433.6 436" stroke="#f6b398" stroke-width="2" fill="none" filter="url(#b1)" opacity="0.6"/>
<path d="M401.6 271 C409.6 321 423.6 380 440.6 436" stroke="#ea8061" stroke-width="2" fill="none" filter="url(#b1)" opacity="0.5"/>
<path d="M407.6 274 C415.6 324 429.6 380 447.6 436" stroke="#f3a587" stroke-width="1.6" fill="none" filter="url(#b1)" opacity="0.6"/>
<path d="M440 388 L468 391 L478 378 L500 371 L560 354 L620 338.5 L668 335" stroke="#ee8c6c" stroke-width="9" fill="none" filter="url(#b3)" opacity="0.85"/>
<path d="M452 392 L520 376 L600 352 L668 338 L668 440 L440 440Z" fill="#f7b89e" filter="url(#b5)" opacity="0.7"/>
<linearGradient id="d_rb" gradientUnits="userSpaceOnUse" x1="560" y1="354" x2="584.3" y2="451"><stop offset="0" stop-color="#ec8668"/><stop offset="0.08" stop-color="#f2a183"/><stop offset="0.22" stop-color="#f6b297"/><stop offset="0.42" stop-color="#f9c8b2"/><stop offset="1" stop-color="#f8bfa6"/></linearGradient>
<path d="M476 377 L500 370 L560 353 L620 337 L672 326 L672 450 L462 450 L470 394Z" fill="url(#d_rb)" filter="url(#b3)"/>
<path d="M353.3 248.2 L380 261.9 L403.7 274.1 L410 276.2 L417.1 277.9" stroke="#d9614c" stroke-width="1.6" fill="none" filter="url(#b05)"/>
<path d="M398 404 L432 398 L470 398 L478 450 L400 450Z" fill="#f9c6b0" filter="url(#b5)" opacity="0.8"/>
<path d="M449 388 C446 400 442 415 436 432" stroke="#e27a5d" stroke-width="3" fill="none" filter="url(#b2)" opacity="0.8"/>
<path d="M462 392 C462 405 458 418 452 432" stroke="#fbd3bf" stroke-width="4" fill="none" filter="url(#b2)" opacity="0.8"/>
</g>
<path d="M417.1 277.2 C417.7 275.3 420.1 276.4 421.5 275.6 C422.9 274.8 424.3 273.9 425.6 272.4 C426.9 270.9 428.3 268.3 429.5 266.5 C430.7 264.7 431.9 262.7 432.9 261.4 C433.9 260.1 434.6 259.4 435.6 258.8 C436.6 258.2 437.4 257.8 439 257.7 C440.6 257.6 443.3 257.8 445.5 258 C447.7 258.2 450 258.5 452.4 259 C454.8 259.5 457.6 260.4 460 261.2 C462.4 262 465.4 262.8 467 263.8 C468.6 264.9 469.4 266 469.6 267.5 C469.8 269 468.6 271.2 468 273 C467.4 274.8 466.4 276.6 465.7 278.5 C464.9 280.4 464.1 282.5 463.5 284.5 C462.9 286.5 462.1 288.9 462 290.6 C461.9 292.4 462.4 293.8 463 295 C463.6 296.2 464.5 297 465.8 297.9 C467.1 298.8 469.2 299.6 471 300.2 C472.8 300.8 474.4 301.3 476.6 301.6 C478.8 301.9 481.6 302.2 484 302.2 C486.4 302.2 489.4 302 491.2 301.6 C493 301.2 494 300.6 495 300 C496 299.4 496.6 297.9 497.3 297.9 C498 297.9 498.4 299.4 499 299.8 C499.6 300.2 499.7 300.7 501 300.4 C502.3 300.1 505 298.7 507 298 C509 297.3 511.4 296.4 513.1 296 C514.9 295.6 516.1 295.5 517.5 295.6 C518.9 295.7 520.4 296.2 521.6 296.7 C522.8 297.2 523.9 297.8 524.6 298.6 C525.3 299.4 525.7 300.4 525.7 301.6 C525.7 302.8 525 304.3 524.4 305.6 C523.8 306.9 523 308.1 521.8 309.5 C520.6 310.9 518.6 312.6 517 314 C515.4 315.4 513.2 316.7 512 318 C510.8 319.3 510.4 320.6 510 322 C509.6 323.4 509.4 325.1 509.6 326.5 C509.8 327.9 510.4 329.3 511.2 330.5 C512 331.7 513 332.7 514.5 333.8 C516 334.9 518 336.2 520 337 C522 337.8 524.4 338.5 526.6 338.7 C528.8 338.9 530.9 338.8 533 338.4 C535.1 337.9 537.2 337.4 539.5 336 C541.8 334.6 544.6 332 547 330 C549.4 328 551.9 325.7 554.1 323.8 C556.4 321.9 558.4 320 560.5 318.6 C562.6 317.2 564.2 316.3 566.5 315.6 C568.8 314.9 571.2 314.5 574.5 314.5 C577.8 314.5 582.2 315.1 586.4 315.6 C590.6 316.1 595.8 317.1 599.7 317.6 C603.6 318.2 606.6 318.4 610 318.9 C613.4 319.4 616.7 320.1 620 320.6 C623.3 321.2 626.3 321.7 629.6 322.2 C632.9 322.7 636.6 323.1 640 323.5 C643.4 323.9 647.7 324.3 649.8 324.9 C651.9 325.5 652.1 326.1 652.6 327 C653.1 327.9 653.2 329.4 653 330.4 C652.8 331.4 652 332.5 651.2 332.8 C650.5 333.1 649.2 332.6 648.5 332.4 C647.8 332.2 647.9 331.5 646.8 331.4 C645.7 331.3 644.6 331.4 641.8 331.6 C639 331.8 633.5 332.1 629.9 332.4 C626.3 332.7 623.9 332.9 620 333.5 C616.1 334.1 610.8 335.1 606.3 336.2 C601.8 337.3 597.5 338.9 593.1 340.1 C588.7 341.3 584.2 342.5 579.8 343.5 C575.4 344.5 570.9 345.1 566.5 346.1 C562.1 347.1 557.2 348.5 553.3 349.6 C549.3 350.7 546.8 351.5 542.8 352.9 C538.8 354.3 533.6 356.6 529 358.2 C524.4 359.8 519.8 361.1 515.2 362.6 C510.6 364.1 506 365.9 501.4 367.2 C496.8 368.5 491.5 369.2 487.6 370.2 C483.7 371.1 480.2 371.9 477.9 372.9 C475.6 373.9 474.9 375.2 473.8 376.4 C472.7 377.6 472.2 379 471.5 380.2 C470.8 381.4 470.1 383 469.4 383.8 C468.6 384.6 467.8 384.2 467 385 C466.2 385.8 465.5 388.5 464.5 388.6 C463.5 388.7 462.2 386.1 461 385.5 C459.8 384.9 458.4 385.4 457.2 385 C456 384.6 455 383.4 454 383.2 C453 383 452.2 383.9 451.1 383.8 C450 383.7 448.5 383.1 447.5 382.5 C446.5 381.9 445.9 381.9 445.1 380.1 C444.3 378.3 443.4 374.3 442.6 371.5 C441.8 368.7 441.3 366.5 440.2 363.1 C439.1 359.7 437.4 355.1 436 351 C434.6 346.9 433 342.8 431.7 338.7 C430.4 334.6 429.2 330.6 428 326.5 C426.8 322.4 425.4 317.8 424.4 314.4 C423.4 311 422.6 308.8 421.8 306 C421 303.2 420.1 301.1 419.5 297.9 C418.9 294.7 418.4 290.4 418 287 C417.6 283.6 416.5 279.1 417.1 277.2Z" fill="#d6e7f3"/>
<g clip-path="url(#d_blue)">
<path d="M417.1 277.2 C417.7 275.3 420.1 276.4 421.5 275.6 C422.9 274.8 424.3 273.9 425.6 272.4 C426.9 270.9 428.3 268.3 429.5 266.5 C430.7 264.7 431.9 262.7 432.9 261.4 C433.9 260.1 434.6 259.4 435.6 258.8 C436.6 258.2 437.4 257.8 439 257.7 C440.6 257.6 443.3 257.8 445.5 258 C447.7 258.2 450 258.5 452.4 259 C454.8 259.5 457.6 260.4 460 261.2 C462.4 262 465.4 262.8 467 263.8 C468.6 264.9 469.4 266 469.6 267.5 C469.8 269 468.6 271.2 468 273 C467.4 274.8 466.4 276.6 465.7 278.5 C464.9 280.4 464.1 282.5 463.5 284.5 C462.9 286.5 462.1 288.9 462 290.6 C461.9 292.4 462.4 293.8 463 295 C463.6 296.2 464.5 297 465.8 297.9 C467.1 298.8 469.2 299.6 471 300.2 C472.8 300.8 474.4 301.3 476.6 301.6 C478.8 301.9 481.6 302.2 484 302.2 C486.4 302.2 489.4 302 491.2 301.6 C493 301.2 494 300.6 495 300 C496 299.4 496.6 297.9 497.3 297.9 C498 297.9 498.4 299.4 499 299.8 C499.6 300.2 499.7 300.7 501 300.4 C502.3 300.1 505 298.7 507 298 C509 297.3 511.4 296.4 513.1 296 C514.9 295.6 516.1 295.5 517.5 295.6 C518.9 295.7 520.4 296.2 521.6 296.7 C522.8 297.2 523.9 297.8 524.6 298.6 C525.3 299.4 525.7 300.4 525.7 301.6 C525.7 302.8 525 304.3 524.4 305.6 C523.8 306.9 523 308.1 521.8 309.5 C520.6 310.9 518.6 312.6 517 314 C515.4 315.4 513.2 316.7 512 318 C510.8 319.3 510.4 320.6 510 322 C509.6 323.4 509.4 325.1 509.6 326.5 C509.8 327.9 510.4 329.3 511.2 330.5 C512 331.7 513 332.7 514.5 333.8 C516 334.9 518 336.2 520 337 C522 337.8 524.4 338.5 526.6 338.7 C528.8 338.9 530.9 338.8 533 338.4 C535.1 337.9 537.2 337.4 539.5 336 C541.8 334.6 544.6 332 547 330 C549.4 328 551.9 325.7 554.1 323.8 C556.4 321.9 558.4 320 560.5 318.6 C562.6 317.2 564.2 316.3 566.5 315.6 C568.8 314.9 571.2 314.5 574.5 314.5 C577.8 314.5 582.2 315.1 586.4 315.6 C590.6 316.1 595.8 317.1 599.7 317.6 C603.6 318.2 606.6 318.4 610 318.9 C613.4 319.4 616.7 320.1 620 320.6 C623.3 321.2 626.3 321.7 629.6 322.2 C632.9 322.7 636.6 323.1 640 323.5 C643.4 323.9 647.7 324.3 649.8 324.9 C651.9 325.5 652.1 326.1 652.6 327 C653.1 327.9 653.2 329.4 653 330.4 C652.8 331.4 652 332.5 651.2 332.8 C650.5 333.1 649.2 332.6 648.5 332.4 C647.8 332.2 647.9 331.5 646.8 331.4 C645.7 331.3 644.6 331.4 641.8 331.6 C639 331.8 633.5 332.1 629.9 332.4 C626.3 332.7 623.9 332.9 620 333.5 C616.1 334.1 610.8 335.1 606.3 336.2 C601.8 337.3 597.5 338.9 593.1 340.1 C588.7 341.3 584.2 342.5 579.8 343.5 C575.4 344.5 570.9 345.1 566.5 346.1 C562.1 347.1 557.2 348.5 553.3 349.6 C549.3 350.7 546.8 351.5 542.8 352.9 C538.8 354.3 533.6 356.6 529 358.2 C524.4 359.8 519.8 361.1 515.2 362.6 C510.6 364.1 506 365.9 501.4 367.2 C496.8 368.5 491.5 369.2 487.6 370.2 C483.7 371.1 480.2 371.9 477.9 372.9 C475.6 373.9 474.9 375.2 473.8 376.4 C472.7 377.6 472.2 379 471.5 380.2 C470.8 381.4 470.1 383 469.4 383.8 C468.6 384.6 467.8 384.2 467 385 C466.2 385.8 465.5 388.5 464.5 388.6 C463.5 388.7 462.2 386.1 461 385.5 C459.8 384.9 458.4 385.4 457.2 385 C456 384.6 455 383.4 454 383.2 C453 383 452.2 383.9 451.1 383.8 C450 383.7 448.5 383.1 447.5 382.5 C446.5 381.9 445.9 381.9 445.1 380.1 C444.3 378.3 443.4 374.3 442.6 371.5 C441.8 368.7 441.3 366.5 440.2 363.1 C439.1 359.7 437.4 355.1 436 351 C434.6 346.9 433 342.8 431.7 338.7 C430.4 334.6 429.2 330.6 428 326.5 C426.8 322.4 425.4 317.8 424.4 314.4 C423.4 311 422.6 308.8 421.8 306 C421 303.2 420.1 301.1 419.5 297.9 C418.9 294.7 418.4 290.4 418 287 C417.6 283.6 416.5 279.1 417.1 277.2Z" fill="none" stroke="#a4cde6" stroke-width="4" filter="url(#b2)" opacity="0.9"/>
<path d="M463 268 C462.2 269.1 460.6 271.8 458 274.5 C455.4 277.2 449.4 279.9 447.2 284.1 C445 288.3 443.8 293.9 444.7 299.6 C445.6 305.3 449.3 312 452.4 318.2 C455.5 324.4 459.9 330.9 463.3 336.8 C466.7 342.8 468.8 350.4 472.6 353.9 C476.4 357.3 482.4 358.8 486 357.5 C489.6 356.2 493.4 351.1 494.2 346.1 C494.9 341.1 490.5 333.3 490.5 327.5 C490.5 321.7 491.6 315.5 494 311.5 C496.4 307.5 500.9 305.4 504.6 303.7 C508.3 301.9 514.1 301.4 516 301" stroke="#86badd" stroke-width="6" fill="none" filter="url(#b2)" opacity="0.95"/>
<path d="M463.1 282.1 C462 284.5 457.1 291 456.5 296.5 C455.9 302 457.3 308.9 459.6 315.1 C461.9 321.3 467.4 328.5 470.5 333.7 C473.6 338.9 475.9 344.3 478.2 346.1 C480.5 347.9 483.6 347.2 484.4 344.6 C485.2 342 482.9 335.2 482.9 330.6 C482.9 326 484.1 319 484.4 316.7" stroke="#a5cde6" stroke-width="5" fill="none" filter="url(#b2)" opacity="0.9"/>
<path d="M430 285 C431 289.2 433.3 301.7 436 310 C438.7 318.3 442.7 326.7 446 335 C449.3 343.3 452.7 353.2 456 360 C459.3 366.8 464.3 373.3 466 376" stroke="#a9cfe7" stroke-width="5" fill="none" filter="url(#b2)" opacity="0.9"/>
<path d="M540 345 L575 322 L640 328 L600 336Z" fill="#deecf6" filter="url(#b3)"/>
</g>
<path d="M520 337 C521.1 337.3 524.4 338.5 526.6 338.7 C528.8 338.9 530.9 338.8 533 338.4 C535.1 337.9 537.2 337.4 539.5 336 C541.8 334.6 544.6 332 547 330 C549.4 328 551.9 325.7 554.1 323.8 C556.4 321.9 558.4 320 560.5 318.6 C562.6 317.2 564.2 316.3 566.5 315.6 C568.8 314.9 571.2 314.5 574.5 314.5 C577.8 314.5 582.2 315.1 586.4 315.6 C590.6 316.1 595.8 317.1 599.7 317.6 C603.6 318.2 606.6 318.4 610 318.9 C613.4 319.4 616.7 320.1 620 320.6 C623.3 321.2 626.3 321.7 629.6 322.2 C632.9 322.7 636.6 323.1 640 323.5 C643.4 323.9 647.3 324.5 649.8 324.9 C652.3 325.2 653.1 325.1 654.8 325.6 C656.5 326.1 658.2 327.2 659.8 327.9 C661.4 328.6 662.8 329.2 664.2 329.9 C665.6 330.6 667.4 331.6 668 332" stroke="#a51f2c" stroke-width="1.3" fill="none"/>
<circle cx="650.2" cy="330.2" r="2.5" fill="#a81d2c" stroke="#7d1422" stroke-width="0.8"/>
<path d="M649 332.2 C648.6 332.1 648 331.5 646.8 331.4 C645.6 331.3 644.6 331.4 641.8 331.6 C639 331.8 633.5 332.1 629.9 332.4 C626.3 332.7 623.9 332.9 620 333.5 C616.1 334.1 610.8 335.1 606.3 336.2 C601.8 337.3 597.5 338.9 593.1 340.1 C588.7 341.3 584.2 342.5 579.8 343.5 C575.4 344.5 570.9 345.1 566.5 346.1 C562.1 347.1 557.2 348.5 553.3 349.6 C549.3 350.7 546.8 351.5 542.8 352.9 C538.8 354.3 533.6 356.6 529 358.2 C524.4 359.8 519.8 361.1 515.2 362.6 C510.6 364.1 506 365.9 501.4 367.2 C496.8 368.5 491.5 369.2 487.6 370.2 C483.7 371.1 480.2 371.9 477.9 372.9 C475.6 373.9 474.9 375.2 473.8 376.4 C472.7 377.6 472.2 379 471.5 380.2 C470.8 381.4 470.1 383 469.4 383.8 C468.6 384.6 467.8 384.2 467 385 C466.2 385.8 465.5 388.5 464.5 388.6 C463.5 388.7 462.2 386.1 461 385.5 C459.8 384.9 458.4 385.4 457.2 385 C456 384.6 455 383.4 454 383.2 C453 383 452.2 383.9 451.1 383.8 C450 383.7 448.5 383.1 447.5 382.5 C446.5 381.9 445.5 380.5 445.1 380.1" stroke="#a51f2c" stroke-width="1.6" fill="none"/>
<path d="M447.5 382.5 C447.1 382.1 445.9 381.9 445.1 380.1 C444.3 378.3 443.4 374.3 442.6 371.5 C441.8 368.7 441.3 366.5 440.2 363.1 C439.1 359.7 437.4 355.1 436 351 C434.6 346.9 433 342.8 431.7 338.7 C430.4 334.6 429.2 330.6 428 326.5 C426.8 322.4 425.4 317.8 424.4 314.4 C423.4 311 422.6 308.8 421.8 306 C421 303.2 420.1 301.1 419.5 297.9 C418.9 294.7 418.4 290.4 418 287 C417.6 283.6 417.2 278.8 417.1 277.2" stroke="#b5352f" stroke-width="1.2" fill="none"/>
<path d="M521.6 296.7 C522.1 297 523.9 297.8 524.6 298.6 C525.3 299.4 525.7 300.4 525.7 301.6 C525.7 302.8 525 304.3 524.4 305.6 C523.8 306.9 523 308.1 521.8 309.5 C520.6 310.9 518.6 312.6 517 314 C515.4 315.4 513.2 316.7 512 318 C510.8 319.3 510.4 320.6 510 322 C509.6 323.4 509.4 325.1 509.6 326.5 C509.8 327.9 510.4 329.3 511.2 330.5 C512 331.7 513 332.7 514.5 333.8 C516 334.9 519.1 336.5 520 337" stroke="#b93a33" stroke-width="1.3" fill="none"/>
<path d="M463.5 284.5 C463.2 285.5 462.1 288.9 462 290.6 C461.9 292.4 462.4 293.8 463 295 C463.6 296.2 464.5 297 465.8 297.9 C467.1 298.8 469.2 299.6 471 300.2 C472.8 300.8 474.4 301.3 476.6 301.6 C478.8 301.9 481.6 302.2 484 302.2 C486.4 302.2 489.4 302 491.2 301.6 C493 301.2 494 300.6 495 300 C496 299.4 496.6 297.9 497.3 297.9 C498 297.9 498.4 299.4 499 299.8 C499.6 300.2 499.7 300.7 501 300.4 C502.3 300.1 505 298.7 507 298 C509 297.3 511.4 296.4 513.1 296 C514.9 295.6 516.1 295.5 517.5 295.6 C518.9 295.7 520.9 296.5 521.6 296.7" stroke="#d4604a" stroke-width="1.0" fill="none"/>
<path d="M417.1 277.2 C417.8 276.9 420.1 276.4 421.5 275.6 C422.9 274.8 424.3 273.9 425.6 272.4 C426.9 270.9 428.3 268.3 429.5 266.5 C430.7 264.7 431.9 262.7 432.9 261.4 C433.9 260.1 434.6 259.4 435.6 258.8 C436.6 258.2 437.4 257.8 439 257.7 C440.6 257.6 443.3 257.8 445.5 258 C447.7 258.2 450 258.5 452.4 259 C454.8 259.5 457.6 260.4 460 261.2 C462.4 262 465.4 262.8 467 263.8 C468.6 264.9 469.4 266 469.6 267.5 C469.8 269 468.6 271.2 468 273 C467.4 274.8 466.4 276.6 465.7 278.5 C464.9 280.4 463.9 283.5 463.5 284.5" stroke="#5fa3d0" stroke-width="0.8" fill="none"/>
</g>
<path d="M54.6 208.4 v-1.8 M54.6 0.2 v1.8M116.4 208.4 v-1.8 M116.4 0.2 v1.8M178.2 208.4 v-1.8 M178.2 0.2 v1.8M240 208.4 v-1.8 M240 0.2 v1.8M301.8 208.4 v-1.8 M301.8 0.2 v1.8M23.7 17.6 h1.8 M332.7 17.6 h-1.8M23.7 52.4 h1.8 M332.7 52.4 h-1.8M23.7 87.1 h1.8 M332.7 87.1 h-1.8M23.7 121.9 h1.8 M332.7 121.9 h-1.8M23.7 156.6 h1.8 M332.7 156.6 h-1.8M23.7 191.4 h1.8 M332.7 191.4 h-1.8" stroke="#444" stroke-width="0.6" fill="none"/>
<rect x="23.7" y="0.2" width="309" height="208.2" fill="none" stroke="#8c8c8c" stroke-width="0.8"/>
<text x="53.6" y="217.4" font-size="9.7">20</text>
<path d="M46.8 215 h5.6" stroke="#1a1a1a" stroke-width="0.8"/>
<text x="115.4" y="217.4" font-size="9.7">10</text>
<path d="M108.6 215 h5.6" stroke="#1a1a1a" stroke-width="0.8"/>
<text x="178.2" y="217.4" font-size="9.7" text-anchor="middle">0</text>
<text x="240" y="217.4" font-size="9.7" text-anchor="middle">10</text>
<text x="301.8" y="217.4" font-size="9.7" text-anchor="middle">20</text>
<text x="22.8" y="21.1" font-size="9.7" text-anchor="end">35</text>
<text x="22.8" y="55.9" font-size="9.7" text-anchor="end">30</text>
<text x="22.8" y="90.6" font-size="9.7" text-anchor="end">25</text>
<text x="22.8" y="125.4" font-size="9.7" text-anchor="end">20</text>
<text x="22.8" y="160.1" font-size="9.7" text-anchor="end">15</text>
<text x="22.8" y="194.9" font-size="9.7" text-anchor="end">10</text>
<text x="316.1" y="17.8" font-size="13" text-anchor="middle" style="stroke-width:0.08px">(a)</text>
<path d="M386.2 208.4 v-1.8 M386.2 0.2 v1.8M448 208.4 v-1.8 M448 0.2 v1.8M509.8 208.4 v-1.8 M509.8 0.2 v1.8M571.6 208.4 v-1.8 M571.6 0.2 v1.8M633.4 208.4 v-1.8 M633.4 0.2 v1.8M355.3 17.6 h1.8 M664.9 17.6 h-1.8M355.3 52.4 h1.8 M664.9 52.4 h-1.8M355.3 87.1 h1.8 M664.9 87.1 h-1.8M355.3 121.9 h1.8 M664.9 121.9 h-1.8M355.3 156.6 h1.8 M664.9 156.6 h-1.8M355.3 191.4 h1.8 M664.9 191.4 h-1.8" stroke="#444" stroke-width="0.6" fill="none"/>
<rect x="355.3" y="0.2" width="309.6" height="208.2" fill="none" stroke="#8c8c8c" stroke-width="0.8"/>
<text x="385.2" y="217.4" font-size="9.7">20</text>
<path d="M378.4 215 h5.6" stroke="#1a1a1a" stroke-width="0.8"/>
<text x="447" y="217.4" font-size="9.7">10</text>
<path d="M440.2 215 h5.6" stroke="#1a1a1a" stroke-width="0.8"/>
<text x="509.8" y="217.4" font-size="9.7" text-anchor="middle">0</text>
<text x="571.6" y="217.4" font-size="9.7" text-anchor="middle">10</text>
<text x="633.4" y="217.4" font-size="9.7" text-anchor="middle">20</text>
<text x="354.4" y="21.1" font-size="9.7" text-anchor="end">35</text>
<text x="354.4" y="55.9" font-size="9.7" text-anchor="end">30</text>
<text x="354.4" y="90.6" font-size="9.7" text-anchor="end">25</text>
<text x="354.4" y="125.4" font-size="9.7" text-anchor="end">20</text>
<text x="354.4" y="160.1" font-size="9.7" text-anchor="end">15</text>
<text x="354.4" y="194.9" font-size="9.7" text-anchor="end">10</text>
<text x="648.3" y="17.8" font-size="13" text-anchor="middle" style="stroke-width:0.08px">(b)</text>
<path d="M54.6 428.7 v-1.8 M54.6 220.3 v1.8M116.4 428.7 v-1.8 M116.4 220.3 v1.8M178.2 428.7 v-1.8 M178.2 220.3 v1.8M240 428.7 v-1.8 M240 220.3 v1.8M301.8 428.7 v-1.8 M301.8 220.3 v1.8M23.7 237.7 h1.8 M332.7 237.7 h-1.8M23.7 272.5 h1.8 M332.7 272.5 h-1.8M23.7 307.2 h1.8 M332.7 307.2 h-1.8M23.7 342 h1.8 M332.7 342 h-1.8M23.7 376.7 h1.8 M332.7 376.7 h-1.8M23.7 411.5 h1.8 M332.7 411.5 h-1.8" stroke="#444" stroke-width="0.6" fill="none"/>
<rect x="23.7" y="220.3" width="309" height="208.4" fill="none" stroke="#444" stroke-width="0.8"/>
<text x="53.6" y="437.7" font-size="9.7">20</text>
<path d="M46.8 435.3 h5.6" stroke="#1a1a1a" stroke-width="0.8"/>
<text x="115.4" y="437.7" font-size="9.7">10</text>
<path d="M108.6 435.3 h5.6" stroke="#1a1a1a" stroke-width="0.8"/>
<text x="178.2" y="437.7" font-size="9.7" text-anchor="middle">0</text>
<text x="240" y="437.7" font-size="9.7" text-anchor="middle">10</text>
<text x="301.8" y="437.7" font-size="9.7" text-anchor="middle">20</text>
<text x="22.8" y="241.2" font-size="9.7" text-anchor="end">35</text>
<text x="22.8" y="276" font-size="9.7" text-anchor="end">30</text>
<text x="22.8" y="310.7" font-size="9.7" text-anchor="end">25</text>
<text x="22.8" y="345.5" font-size="9.7" text-anchor="end">20</text>
<text x="22.8" y="380.2" font-size="9.7" text-anchor="end">15</text>
<text x="22.8" y="415" font-size="9.7" text-anchor="end">10</text>
<text x="316.1" y="237.9" font-size="13" text-anchor="middle" style="stroke-width:0.08px">(c)</text>
<path d="M386.2 428.7 v-1.8 M386.2 220.3 v1.8M448 428.7 v-1.8 M448 220.3 v1.8M509.8 428.7 v-1.8 M509.8 220.3 v1.8M571.6 428.7 v-1.8 M571.6 220.3 v1.8M633.4 428.7 v-1.8 M633.4 220.3 v1.8M355.3 237.7 h1.8 M664.9 237.7 h-1.8M355.3 272.5 h1.8 M664.9 272.5 h-1.8M355.3 307.2 h1.8 M664.9 307.2 h-1.8M355.3 342 h1.8 M664.9 342 h-1.8M355.3 376.7 h1.8 M664.9 376.7 h-1.8M355.3 411.5 h1.8 M664.9 411.5 h-1.8" stroke="#444" stroke-width="0.6" fill="none"/>
<rect x="355.3" y="220.3" width="309.6" height="208.4" fill="none" stroke="#444" stroke-width="0.8"/>
<text x="385.2" y="437.7" font-size="9.7">20</text>
<path d="M378.4 435.3 h5.6" stroke="#1a1a1a" stroke-width="0.8"/>
<text x="447" y="437.7" font-size="9.7">10</text>
<path d="M440.2 435.3 h5.6" stroke="#1a1a1a" stroke-width="0.8"/>
<text x="509.8" y="437.7" font-size="9.7" text-anchor="middle">0</text>
<text x="571.6" y="437.7" font-size="9.7" text-anchor="middle">10</text>
<text x="633.4" y="437.7" font-size="9.7" text-anchor="middle">20</text>
<text x="354.4" y="241.2" font-size="9.7" text-anchor="end">35</text>
<text x="354.4" y="276" font-size="9.7" text-anchor="end">30</text>
<text x="354.4" y="310.7" font-size="9.7" text-anchor="end">25</text>
<text x="354.4" y="345.5" font-size="9.7" text-anchor="end">20</text>
<text x="354.4" y="380.2" font-size="9.7" text-anchor="end">15</text>
<text x="354.4" y="415" font-size="9.7" text-anchor="end">10</text>
<text x="648.3" y="237.9" font-size="13" text-anchor="middle" style="stroke-width:0.08px">(d)</text>
<text x="178.5" y="448.6" font-size="11.2" text-anchor="middle"><tspan font-style="italic">ϕ</tspan> [°]</text>
<text x="510.4" y="448.6" font-size="11.2" text-anchor="middle"><tspan font-style="italic">ϕ</tspan> [°]</text>
<text transform="translate(8.3 104.3) rotate(-90)" font-size="11.2" text-anchor="middle"><tspan font-style="italic" font-weight="bold">θ</tspan> [°]</text>
<text transform="translate(8.3 324.5) rotate(-90)" font-size="11.2" text-anchor="middle"><tspan font-style="italic" font-weight="bold">θ</tspan> [°]</text>
<rect x="680.2" y="220.3" width="15.4" height="208.4" fill="url(#cbar)" stroke="#555" stroke-width="0.6"/>
<text x="696.5" y="244.1" font-size="9.7">4</text>
<text x="696.5" y="285.8" font-size="9.7">2</text>
<text x="696.5" y="327.5" font-size="9.7">0</text>
<path d="M696.9 366.8 h5.6" stroke="#1a1a1a" stroke-width="0.8"/>
<text x="703.5" y="369.2" font-size="9.7">2</text>
<path d="M696.9 408.5 h5.6" stroke="#1a1a1a" stroke-width="0.8"/>
<text x="703.5" y="410.9" font-size="9.7">4</text>
<path d="M695.6 241.1 h-1.8M695.6 282.8 h-1.8M695.6 324.5 h-1.8M695.6 366.2 h-1.8M695.6 407.9 h-1.8" stroke="#444" stroke-width="0.6" fill="none"/>
<text transform="translate(722.0 325) rotate(-90)" font-size="11.2" textLength="36.6" lengthAdjust="spacing" text-anchor="middle">slog(<tspan font-style="italic">Q</tspan>)</text>
</svg></body></html>
